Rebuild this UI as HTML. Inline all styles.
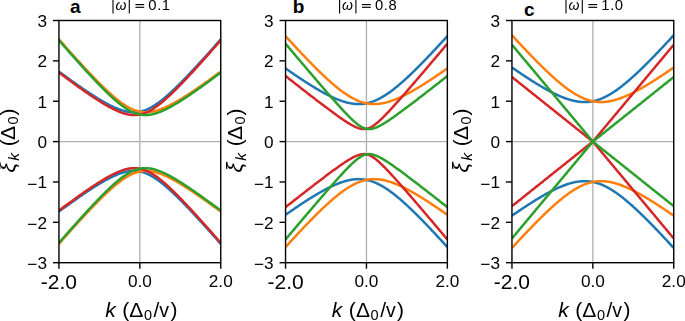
<!DOCTYPE html>
<html><head><meta charset="utf-8"><style>
html,body{margin:0;padding:0;background:#fff;}
body{width:685px;height:321px;overflow:hidden;}
svg{display:block;}
.ov{position:absolute;left:0;top:0;will-change:transform;}
text{font-family:"Liberation Sans",sans-serif;fill:#000;}
</style></head><body>
<svg width="685" height="321" viewBox="0 0 685 321">
<rect width="685" height="321" fill="#fff"/>

<defs><clipPath id="cp0"><rect x="58.95" y="20.5" width="161.80" height="242.20"/></clipPath></defs>
<g stroke="#b0b0b0" stroke-width="1.3" fill="none">
<line x1="139.85" y1="20.5" x2="139.85" y2="262.7"/>
<line x1="58.95" y1="141.60" x2="220.75" y2="141.60"/>
</g>
<g clip-path="url(#cp0)" fill="none" stroke-width="2.5" stroke-linejoin="round" stroke-linecap="butt">
<path stroke="#1f77b4" d="M58.95,71.64 L59.62,72.14 L60.30,72.63 L60.97,73.13 L61.65,73.62 L62.32,74.11 L63.00,74.61 L63.67,75.10 L64.34,75.59 L65.02,76.08 L65.69,76.57 L66.37,77.06 L67.04,77.55 L67.71,78.03 L68.39,78.52 L69.06,79.01 L69.74,79.49 L70.41,79.97 L71.09,80.46 L71.76,80.94 L72.43,81.42 L73.11,81.90 L73.78,82.38 L74.46,82.85 L75.13,83.33 L75.80,83.81 L76.48,84.28 L77.15,84.75 L77.83,85.22 L78.50,85.69 L79.18,86.16 L79.85,86.63 L80.52,87.10 L81.20,87.56 L81.87,88.03 L82.55,88.49 L83.22,88.95 L83.89,89.41 L84.57,89.87 L85.24,90.32 L85.92,90.78 L86.59,91.23 L87.27,91.68 L87.94,92.13 L88.61,92.58 L89.29,93.02 L89.96,93.46 L90.64,93.90 L91.31,94.34 L91.98,94.78 L92.66,95.21 L93.33,95.65 L94.01,96.08 L94.68,96.50 L95.36,96.93 L96.03,97.35 L96.70,97.77 L97.38,98.19 L98.05,98.60 L98.73,99.01 L99.40,99.42 L100.07,99.82 L100.75,100.22 L101.42,100.62 L102.10,101.01 L102.77,101.40 L103.45,101.79 L104.12,102.17 L104.79,102.55 L105.47,102.93 L106.14,103.30 L106.82,103.66 L107.49,104.02 L108.16,104.38 L108.84,104.73 L109.51,105.08 L110.19,105.42 L110.86,105.76 L111.54,106.09 L112.21,106.41 L112.88,106.73 L113.56,107.04 L114.23,107.35 L114.91,107.64 L115.58,107.94 L116.25,108.22 L116.93,108.50 L117.60,108.77 L118.28,109.03 L118.95,109.29 L119.62,109.53 L120.30,109.77 L120.97,110.00 L121.65,110.22 L122.32,110.43 L123.00,110.63 L123.67,110.82 L124.34,111.00 L125.02,111.16 L125.69,111.32 L126.37,111.47 L127.04,111.60 L127.72,111.73 L128.39,111.84 L129.06,111.94 L129.74,112.03 L130.41,112.10 L131.09,112.16 L131.76,112.21 L132.43,112.24 L133.11,112.26 L133.78,112.27 L134.46,112.26 L135.13,112.24 L135.81,112.20 L136.48,112.15 L137.15,112.08 L137.83,112.00 L138.50,111.90 L139.18,111.79 L139.85,111.66 L140.52,111.52 L141.20,111.36 L141.87,111.19 L142.55,111.00 L143.22,110.80 L143.90,110.59 L144.57,110.35 L145.24,110.11 L145.92,109.85 L146.59,109.57 L147.27,109.28 L147.94,108.98 L148.61,108.66 L149.29,108.33 L149.96,107.99 L150.64,107.63 L151.31,107.27 L151.99,106.88 L152.66,106.49 L153.33,106.09 L154.01,105.67 L154.68,105.24 L155.36,104.81 L156.03,104.36 L156.70,103.90 L157.38,103.43 L158.05,102.95 L158.73,102.46 L159.40,101.96 L160.07,101.46 L160.75,100.94 L161.42,100.42 L162.10,99.89 L162.77,99.35 L163.45,98.80 L164.12,98.25 L164.79,97.69 L165.47,97.12 L166.14,96.54 L166.82,95.96 L167.49,95.38 L168.17,94.78 L168.84,94.18 L169.51,93.58 L170.19,92.97 L170.86,92.35 L171.54,91.73 L172.21,91.11 L172.88,90.48 L173.56,89.84 L174.23,89.20 L174.91,88.56 L175.58,87.91 L176.25,87.26 L176.93,86.60 L177.60,85.94 L178.28,85.28 L178.95,84.61 L179.63,83.94 L180.30,83.27 L180.97,82.59 L181.65,81.91 L182.32,81.23 L183.00,80.55 L183.67,79.86 L184.35,79.17 L185.02,78.47 L185.69,77.78 L186.37,77.08 L187.04,76.38 L187.72,75.67 L188.39,74.97 L189.06,74.26 L189.74,73.55 L190.41,72.84 L191.09,72.12 L191.76,71.41 L192.44,70.69 L193.11,69.97 L193.78,69.25 L194.46,68.52 L195.13,67.80 L195.81,67.07 L196.48,66.34 L197.15,65.61 L197.83,64.88 L198.50,64.15 L199.18,63.42 L199.85,62.68 L200.53,61.94 L201.20,61.21 L201.87,60.47 L202.55,59.72 L203.22,58.98 L203.90,58.24 L204.57,57.50 L205.24,56.75 L205.92,56.00 L206.59,55.26 L207.27,54.51 L207.94,53.76 L208.62,53.01 L209.29,52.25 L209.96,51.50 L210.64,50.75 L211.31,49.99 L211.99,49.24 L212.66,48.48 L213.33,47.73 L214.01,46.97 L214.68,46.21 L215.36,45.45 L216.03,44.69 L216.70,43.93 L217.38,43.17 L218.05,42.40 L218.73,41.64 L219.40,40.88 L220.08,40.11 L220.75,39.35"/>
<path stroke="#1f77b4" d="M58.95,211.56 L59.62,211.06 L60.30,210.57 L60.97,210.07 L61.65,209.58 L62.32,209.09 L63.00,208.59 L63.67,208.10 L64.34,207.61 L65.02,207.12 L65.69,206.63 L66.37,206.14 L67.04,205.65 L67.71,205.17 L68.39,204.68 L69.06,204.19 L69.74,203.71 L70.41,203.23 L71.09,202.74 L71.76,202.26 L72.43,201.78 L73.11,201.30 L73.78,200.82 L74.46,200.35 L75.13,199.87 L75.80,199.39 L76.48,198.92 L77.15,198.45 L77.83,197.98 L78.50,197.51 L79.18,197.04 L79.85,196.57 L80.52,196.10 L81.20,195.64 L81.87,195.17 L82.55,194.71 L83.22,194.25 L83.89,193.79 L84.57,193.33 L85.24,192.88 L85.92,192.42 L86.59,191.97 L87.27,191.52 L87.94,191.07 L88.61,190.62 L89.29,190.18 L89.96,189.74 L90.64,189.30 L91.31,188.86 L91.98,188.42 L92.66,187.99 L93.33,187.55 L94.01,187.12 L94.68,186.70 L95.36,186.27 L96.03,185.85 L96.70,185.43 L97.38,185.01 L98.05,184.60 L98.73,184.19 L99.40,183.78 L100.07,183.38 L100.75,182.98 L101.42,182.58 L102.10,182.19 L102.77,181.80 L103.45,181.41 L104.12,181.03 L104.79,180.65 L105.47,180.27 L106.14,179.90 L106.82,179.54 L107.49,179.18 L108.16,178.82 L108.84,178.47 L109.51,178.12 L110.19,177.78 L110.86,177.44 L111.54,177.11 L112.21,176.79 L112.88,176.47 L113.56,176.16 L114.23,175.85 L114.91,175.56 L115.58,175.26 L116.25,174.98 L116.93,174.70 L117.60,174.43 L118.28,174.17 L118.95,173.91 L119.62,173.67 L120.30,173.43 L120.97,173.20 L121.65,172.98 L122.32,172.77 L123.00,172.57 L123.67,172.38 L124.34,172.20 L125.02,172.04 L125.69,171.88 L126.37,171.73 L127.04,171.60 L127.72,171.47 L128.39,171.36 L129.06,171.26 L129.74,171.17 L130.41,171.10 L131.09,171.04 L131.76,170.99 L132.43,170.96 L133.11,170.94 L133.78,170.93 L134.46,170.94 L135.13,170.96 L135.81,171.00 L136.48,171.05 L137.15,171.12 L137.83,171.20 L138.50,171.30 L139.18,171.41 L139.85,171.54 L140.52,171.68 L141.20,171.84 L141.87,172.01 L142.55,172.20 L143.22,172.40 L143.90,172.61 L144.57,172.85 L145.24,173.09 L145.92,173.35 L146.59,173.63 L147.27,173.92 L147.94,174.22 L148.61,174.54 L149.29,174.87 L149.96,175.21 L150.64,175.57 L151.31,175.93 L151.99,176.32 L152.66,176.71 L153.33,177.11 L154.01,177.53 L154.68,177.96 L155.36,178.39 L156.03,178.84 L156.70,179.30 L157.38,179.77 L158.05,180.25 L158.73,180.74 L159.40,181.24 L160.07,181.74 L160.75,182.26 L161.42,182.78 L162.10,183.31 L162.77,183.85 L163.45,184.40 L164.12,184.95 L164.79,185.51 L165.47,186.08 L166.14,186.66 L166.82,187.24 L167.49,187.82 L168.17,188.42 L168.84,189.02 L169.51,189.62 L170.19,190.23 L170.86,190.85 L171.54,191.47 L172.21,192.09 L172.88,192.72 L173.56,193.36 L174.23,194.00 L174.91,194.64 L175.58,195.29 L176.25,195.94 L176.93,196.60 L177.60,197.26 L178.28,197.92 L178.95,198.59 L179.63,199.26 L180.30,199.93 L180.97,200.61 L181.65,201.29 L182.32,201.97 L183.00,202.65 L183.67,203.34 L184.35,204.03 L185.02,204.73 L185.69,205.42 L186.37,206.12 L187.04,206.82 L187.72,207.53 L188.39,208.23 L189.06,208.94 L189.74,209.65 L190.41,210.36 L191.09,211.08 L191.76,211.79 L192.44,212.51 L193.11,213.23 L193.78,213.95 L194.46,214.68 L195.13,215.40 L195.81,216.13 L196.48,216.86 L197.15,217.59 L197.83,218.32 L198.50,219.05 L199.18,219.78 L199.85,220.52 L200.53,221.26 L201.20,221.99 L201.87,222.73 L202.55,223.48 L203.22,224.22 L203.90,224.96 L204.57,225.70 L205.24,226.45 L205.92,227.20 L206.59,227.94 L207.27,228.69 L207.94,229.44 L208.62,230.19 L209.29,230.95 L209.96,231.70 L210.64,232.45 L211.31,233.21 L211.99,233.96 L212.66,234.72 L213.33,235.47 L214.01,236.23 L214.68,236.99 L215.36,237.75 L216.03,238.51 L216.70,239.27 L217.38,240.03 L218.05,240.80 L218.73,241.56 L219.40,242.32 L220.08,243.09 L220.75,243.85"/>
<path stroke="#ff7f0e" d="M58.95,39.35 L59.62,40.11 L60.30,40.88 L60.97,41.64 L61.65,42.40 L62.32,43.17 L63.00,43.93 L63.67,44.69 L64.34,45.45 L65.02,46.21 L65.69,46.97 L66.37,47.73 L67.04,48.48 L67.71,49.24 L68.39,49.99 L69.06,50.75 L69.74,51.50 L70.41,52.25 L71.09,53.01 L71.76,53.76 L72.43,54.51 L73.11,55.26 L73.78,56.00 L74.46,56.75 L75.13,57.50 L75.80,58.24 L76.48,58.98 L77.15,59.72 L77.83,60.47 L78.50,61.21 L79.18,61.94 L79.85,62.68 L80.52,63.42 L81.20,64.15 L81.87,64.88 L82.55,65.61 L83.22,66.34 L83.89,67.07 L84.57,67.80 L85.24,68.52 L85.92,69.25 L86.59,69.97 L87.27,70.69 L87.94,71.41 L88.61,72.12 L89.29,72.84 L89.96,73.55 L90.64,74.26 L91.31,74.97 L91.98,75.67 L92.66,76.38 L93.33,77.08 L94.01,77.78 L94.68,78.47 L95.36,79.17 L96.03,79.86 L96.70,80.55 L97.38,81.23 L98.05,81.91 L98.73,82.59 L99.40,83.27 L100.07,83.94 L100.75,84.61 L101.42,85.28 L102.10,85.94 L102.77,86.60 L103.45,87.26 L104.12,87.91 L104.79,88.56 L105.47,89.20 L106.14,89.84 L106.82,90.48 L107.49,91.11 L108.16,91.73 L108.84,92.35 L109.51,92.97 L110.19,93.58 L110.86,94.18 L111.54,94.78 L112.21,95.38 L112.88,95.96 L113.56,96.54 L114.23,97.12 L114.91,97.69 L115.58,98.25 L116.25,98.80 L116.93,99.35 L117.60,99.89 L118.28,100.42 L118.95,100.94 L119.62,101.46 L120.30,101.96 L120.97,102.46 L121.65,102.95 L122.32,103.43 L123.00,103.90 L123.67,104.36 L124.34,104.81 L125.02,105.24 L125.69,105.67 L126.37,106.09 L127.04,106.49 L127.72,106.88 L128.39,107.27 L129.06,107.63 L129.74,107.99 L130.41,108.33 L131.09,108.66 L131.76,108.98 L132.43,109.28 L133.11,109.57 L133.78,109.85 L134.46,110.11 L135.13,110.35 L135.81,110.59 L136.48,110.80 L137.15,111.00 L137.83,111.19 L138.50,111.36 L139.18,111.52 L139.85,111.66 L140.52,111.79 L141.20,111.90 L141.87,112.00 L142.55,112.08 L143.22,112.15 L143.90,112.20 L144.57,112.24 L145.24,112.26 L145.92,112.27 L146.59,112.26 L147.27,112.24 L147.94,112.21 L148.61,112.16 L149.29,112.10 L149.96,112.03 L150.64,111.94 L151.31,111.84 L151.99,111.73 L152.66,111.60 L153.33,111.47 L154.01,111.32 L154.68,111.16 L155.36,111.00 L156.03,110.82 L156.70,110.63 L157.38,110.43 L158.05,110.22 L158.73,110.00 L159.40,109.77 L160.07,109.53 L160.75,109.29 L161.42,109.03 L162.10,108.77 L162.77,108.50 L163.45,108.22 L164.12,107.94 L164.79,107.64 L165.47,107.35 L166.14,107.04 L166.82,106.73 L167.49,106.41 L168.17,106.09 L168.84,105.76 L169.51,105.42 L170.19,105.08 L170.86,104.73 L171.54,104.38 L172.21,104.02 L172.88,103.66 L173.56,103.30 L174.23,102.93 L174.91,102.55 L175.58,102.17 L176.25,101.79 L176.93,101.40 L177.60,101.01 L178.28,100.62 L178.95,100.22 L179.63,99.82 L180.30,99.42 L180.97,99.01 L181.65,98.60 L182.32,98.19 L183.00,97.77 L183.67,97.35 L184.35,96.93 L185.02,96.50 L185.69,96.08 L186.37,95.65 L187.04,95.21 L187.72,94.78 L188.39,94.34 L189.06,93.90 L189.74,93.46 L190.41,93.02 L191.09,92.58 L191.76,92.13 L192.44,91.68 L193.11,91.23 L193.78,90.78 L194.46,90.32 L195.13,89.87 L195.81,89.41 L196.48,88.95 L197.15,88.49 L197.83,88.03 L198.50,87.56 L199.18,87.10 L199.85,86.63 L200.53,86.16 L201.20,85.69 L201.87,85.22 L202.55,84.75 L203.22,84.28 L203.90,83.81 L204.57,83.33 L205.24,82.85 L205.92,82.38 L206.59,81.90 L207.27,81.42 L207.94,80.94 L208.62,80.46 L209.29,79.97 L209.96,79.49 L210.64,79.01 L211.31,78.52 L211.99,78.03 L212.66,77.55 L213.33,77.06 L214.01,76.57 L214.68,76.08 L215.36,75.59 L216.03,75.10 L216.70,74.61 L217.38,74.11 L218.05,73.62 L218.73,73.13 L219.40,72.63 L220.08,72.14 L220.75,71.64"/>
<path stroke="#ff7f0e" d="M58.95,243.85 L59.62,243.09 L60.30,242.32 L60.97,241.56 L61.65,240.80 L62.32,240.03 L63.00,239.27 L63.67,238.51 L64.34,237.75 L65.02,236.99 L65.69,236.23 L66.37,235.47 L67.04,234.72 L67.71,233.96 L68.39,233.21 L69.06,232.45 L69.74,231.70 L70.41,230.95 L71.09,230.19 L71.76,229.44 L72.43,228.69 L73.11,227.94 L73.78,227.20 L74.46,226.45 L75.13,225.70 L75.80,224.96 L76.48,224.22 L77.15,223.48 L77.83,222.73 L78.50,221.99 L79.18,221.26 L79.85,220.52 L80.52,219.78 L81.20,219.05 L81.87,218.32 L82.55,217.59 L83.22,216.86 L83.89,216.13 L84.57,215.40 L85.24,214.68 L85.92,213.95 L86.59,213.23 L87.27,212.51 L87.94,211.79 L88.61,211.08 L89.29,210.36 L89.96,209.65 L90.64,208.94 L91.31,208.23 L91.98,207.53 L92.66,206.82 L93.33,206.12 L94.01,205.42 L94.68,204.73 L95.36,204.03 L96.03,203.34 L96.70,202.65 L97.38,201.97 L98.05,201.29 L98.73,200.61 L99.40,199.93 L100.07,199.26 L100.75,198.59 L101.42,197.92 L102.10,197.26 L102.77,196.60 L103.45,195.94 L104.12,195.29 L104.79,194.64 L105.47,194.00 L106.14,193.36 L106.82,192.72 L107.49,192.09 L108.16,191.47 L108.84,190.85 L109.51,190.23 L110.19,189.62 L110.86,189.02 L111.54,188.42 L112.21,187.82 L112.88,187.24 L113.56,186.66 L114.23,186.08 L114.91,185.51 L115.58,184.95 L116.25,184.40 L116.93,183.85 L117.60,183.31 L118.28,182.78 L118.95,182.26 L119.62,181.74 L120.30,181.24 L120.97,180.74 L121.65,180.25 L122.32,179.77 L123.00,179.30 L123.67,178.84 L124.34,178.39 L125.02,177.96 L125.69,177.53 L126.37,177.11 L127.04,176.71 L127.72,176.32 L128.39,175.93 L129.06,175.57 L129.74,175.21 L130.41,174.87 L131.09,174.54 L131.76,174.22 L132.43,173.92 L133.11,173.63 L133.78,173.35 L134.46,173.09 L135.13,172.85 L135.81,172.61 L136.48,172.40 L137.15,172.20 L137.83,172.01 L138.50,171.84 L139.18,171.68 L139.85,171.54 L140.52,171.41 L141.20,171.30 L141.87,171.20 L142.55,171.12 L143.22,171.05 L143.90,171.00 L144.57,170.96 L145.24,170.94 L145.92,170.93 L146.59,170.94 L147.27,170.96 L147.94,170.99 L148.61,171.04 L149.29,171.10 L149.96,171.17 L150.64,171.26 L151.31,171.36 L151.99,171.47 L152.66,171.60 L153.33,171.73 L154.01,171.88 L154.68,172.04 L155.36,172.20 L156.03,172.38 L156.70,172.57 L157.38,172.77 L158.05,172.98 L158.73,173.20 L159.40,173.43 L160.07,173.67 L160.75,173.91 L161.42,174.17 L162.10,174.43 L162.77,174.70 L163.45,174.98 L164.12,175.26 L164.79,175.56 L165.47,175.85 L166.14,176.16 L166.82,176.47 L167.49,176.79 L168.17,177.11 L168.84,177.44 L169.51,177.78 L170.19,178.12 L170.86,178.47 L171.54,178.82 L172.21,179.18 L172.88,179.54 L173.56,179.90 L174.23,180.27 L174.91,180.65 L175.58,181.03 L176.25,181.41 L176.93,181.80 L177.60,182.19 L178.28,182.58 L178.95,182.98 L179.63,183.38 L180.30,183.78 L180.97,184.19 L181.65,184.60 L182.32,185.01 L183.00,185.43 L183.67,185.85 L184.35,186.27 L185.02,186.70 L185.69,187.12 L186.37,187.55 L187.04,187.99 L187.72,188.42 L188.39,188.86 L189.06,189.30 L189.74,189.74 L190.41,190.18 L191.09,190.62 L191.76,191.07 L192.44,191.52 L193.11,191.97 L193.78,192.42 L194.46,192.88 L195.13,193.33 L195.81,193.79 L196.48,194.25 L197.15,194.71 L197.83,195.17 L198.50,195.64 L199.18,196.10 L199.85,196.57 L200.53,197.04 L201.20,197.51 L201.87,197.98 L202.55,198.45 L203.22,198.92 L203.90,199.39 L204.57,199.87 L205.24,200.35 L205.92,200.82 L206.59,201.30 L207.27,201.78 L207.94,202.26 L208.62,202.74 L209.29,203.23 L209.96,203.71 L210.64,204.19 L211.31,204.68 L211.99,205.17 L212.66,205.65 L213.33,206.14 L214.01,206.63 L214.68,207.12 L215.36,207.61 L216.03,208.10 L216.70,208.59 L217.38,209.09 L218.05,209.58 L218.73,210.07 L219.40,210.57 L220.08,211.06 L220.75,211.56"/>
<path stroke="#d62728" d="M58.95,72.59 L59.62,73.10 L60.30,73.60 L60.97,74.10 L61.65,74.60 L62.32,75.10 L63.00,75.60 L63.67,76.10 L64.34,76.60 L65.02,77.10 L65.69,77.60 L66.37,78.09 L67.04,78.59 L67.71,79.09 L68.39,79.58 L69.06,80.07 L69.74,80.57 L70.41,81.06 L71.09,81.55 L71.76,82.04 L72.43,82.53 L73.11,83.02 L73.78,83.51 L74.46,84.00 L75.13,84.48 L75.80,84.97 L76.48,85.45 L77.15,85.94 L77.83,86.42 L78.50,86.90 L79.18,87.38 L79.85,87.86 L80.52,88.34 L81.20,88.81 L81.87,89.29 L82.55,89.76 L83.22,90.24 L83.89,90.71 L84.57,91.18 L85.24,91.65 L85.92,92.11 L86.59,92.58 L87.27,93.04 L87.94,93.51 L88.61,93.97 L89.29,94.43 L89.96,94.88 L90.64,95.34 L91.31,95.79 L91.98,96.24 L92.66,96.69 L93.33,97.14 L94.01,97.59 L94.68,98.03 L95.36,98.47 L96.03,98.91 L96.70,99.35 L97.38,99.78 L98.05,100.21 L98.73,100.64 L99.40,101.07 L100.07,101.49 L100.75,101.91 L101.42,102.32 L102.10,102.74 L102.77,103.15 L103.45,103.55 L104.12,103.96 L104.79,104.36 L105.47,104.75 L106.14,105.14 L106.82,105.53 L107.49,105.91 L108.16,106.29 L108.84,106.67 L109.51,107.04 L110.19,107.40 L110.86,107.76 L111.54,108.11 L112.21,108.46 L112.88,108.81 L113.56,109.14 L114.23,109.47 L114.91,109.80 L115.58,110.11 L116.25,110.42 L116.93,110.73 L117.60,111.02 L118.28,111.31 L118.95,111.59 L119.62,111.86 L120.30,112.13 L120.97,112.38 L121.65,112.63 L122.32,112.86 L123.00,113.09 L123.67,113.30 L124.34,113.51 L125.02,113.70 L125.69,113.88 L126.37,114.05 L127.04,114.21 L127.72,114.36 L128.39,114.49 L129.06,114.61 L129.74,114.72 L130.41,114.81 L131.09,114.89 L131.76,114.96 L132.43,115.01 L133.11,115.04 L133.78,115.06 L134.46,115.07 L135.13,115.06 L135.81,115.03 L136.48,114.99 L137.15,114.93 L137.83,114.85 L138.50,114.76 L139.18,114.65 L139.85,114.52 L140.52,114.38 L141.20,114.22 L141.87,114.04 L142.55,113.85 L143.22,113.64 L143.90,113.41 L144.57,113.17 L145.24,112.92 L145.92,112.64 L146.59,112.35 L147.27,112.05 L147.94,111.73 L148.61,111.39 L149.29,111.05 L149.96,110.68 L150.64,110.31 L151.31,109.92 L151.99,109.51 L152.66,109.10 L153.33,108.67 L154.01,108.23 L154.68,107.78 L155.36,107.32 L156.03,106.84 L156.70,106.36 L157.38,105.86 L158.05,105.36 L158.73,104.85 L159.40,104.32 L160.07,103.79 L160.75,103.25 L161.42,102.70 L162.10,102.14 L162.77,101.58 L163.45,101.01 L164.12,100.43 L164.79,99.84 L165.47,99.25 L166.14,98.65 L166.82,98.04 L167.49,97.43 L168.17,96.81 L168.84,96.19 L169.51,95.56 L170.19,94.93 L170.86,94.29 L171.54,93.65 L172.21,93.00 L172.88,92.35 L173.56,91.69 L174.23,91.03 L174.91,90.36 L175.58,89.69 L176.25,89.02 L176.93,88.35 L177.60,87.67 L178.28,86.99 L178.95,86.30 L179.63,85.61 L180.30,84.92 L180.97,84.22 L181.65,83.53 L182.32,82.83 L183.00,82.12 L183.67,81.42 L184.35,80.71 L185.02,80.00 L185.69,79.29 L186.37,78.57 L187.04,77.86 L187.72,77.14 L188.39,76.42 L189.06,75.69 L189.74,74.97 L190.41,74.24 L191.09,73.51 L191.76,72.78 L192.44,72.05 L193.11,71.32 L193.78,70.59 L194.46,69.85 L195.13,69.11 L195.81,68.37 L196.48,67.63 L197.15,66.89 L197.83,66.15 L198.50,65.40 L199.18,64.66 L199.85,63.91 L200.53,63.16 L201.20,62.41 L201.87,61.66 L202.55,60.91 L203.22,60.16 L203.90,59.40 L204.57,58.65 L205.24,57.89 L205.92,57.14 L206.59,56.38 L207.27,55.62 L207.94,54.86 L208.62,54.10 L209.29,53.34 L209.96,52.58 L210.64,51.82 L211.31,51.05 L211.99,50.29 L212.66,49.53 L213.33,48.76 L214.01,47.99 L214.68,47.23 L215.36,46.46 L216.03,45.69 L216.70,44.92 L217.38,44.15 L218.05,43.38 L218.73,42.61 L219.40,41.84 L220.08,41.07 L220.75,40.30"/>
<path stroke="#d62728" d="M58.95,210.61 L59.62,210.10 L60.30,209.60 L60.97,209.10 L61.65,208.60 L62.32,208.10 L63.00,207.60 L63.67,207.10 L64.34,206.60 L65.02,206.10 L65.69,205.60 L66.37,205.11 L67.04,204.61 L67.71,204.11 L68.39,203.62 L69.06,203.13 L69.74,202.63 L70.41,202.14 L71.09,201.65 L71.76,201.16 L72.43,200.67 L73.11,200.18 L73.78,199.69 L74.46,199.20 L75.13,198.72 L75.80,198.23 L76.48,197.75 L77.15,197.26 L77.83,196.78 L78.50,196.30 L79.18,195.82 L79.85,195.34 L80.52,194.86 L81.20,194.39 L81.87,193.91 L82.55,193.44 L83.22,192.96 L83.89,192.49 L84.57,192.02 L85.24,191.55 L85.92,191.09 L86.59,190.62 L87.27,190.16 L87.94,189.69 L88.61,189.23 L89.29,188.77 L89.96,188.32 L90.64,187.86 L91.31,187.41 L91.98,186.96 L92.66,186.51 L93.33,186.06 L94.01,185.61 L94.68,185.17 L95.36,184.73 L96.03,184.29 L96.70,183.85 L97.38,183.42 L98.05,182.99 L98.73,182.56 L99.40,182.13 L100.07,181.71 L100.75,181.29 L101.42,180.88 L102.10,180.46 L102.77,180.05 L103.45,179.65 L104.12,179.24 L104.79,178.84 L105.47,178.45 L106.14,178.06 L106.82,177.67 L107.49,177.29 L108.16,176.91 L108.84,176.53 L109.51,176.16 L110.19,175.80 L110.86,175.44 L111.54,175.09 L112.21,174.74 L112.88,174.39 L113.56,174.06 L114.23,173.73 L114.91,173.40 L115.58,173.09 L116.25,172.78 L116.93,172.47 L117.60,172.18 L118.28,171.89 L118.95,171.61 L119.62,171.34 L120.30,171.07 L120.97,170.82 L121.65,170.57 L122.32,170.34 L123.00,170.11 L123.67,169.90 L124.34,169.69 L125.02,169.50 L125.69,169.32 L126.37,169.15 L127.04,168.99 L127.72,168.84 L128.39,168.71 L129.06,168.59 L129.74,168.48 L130.41,168.39 L131.09,168.31 L131.76,168.24 L132.43,168.19 L133.11,168.16 L133.78,168.14 L134.46,168.13 L135.13,168.14 L135.81,168.17 L136.48,168.21 L137.15,168.27 L137.83,168.35 L138.50,168.44 L139.18,168.55 L139.85,168.68 L140.52,168.82 L141.20,168.98 L141.87,169.16 L142.55,169.35 L143.22,169.56 L143.90,169.79 L144.57,170.03 L145.24,170.28 L145.92,170.56 L146.59,170.85 L147.27,171.15 L147.94,171.47 L148.61,171.81 L149.29,172.15 L149.96,172.52 L150.64,172.89 L151.31,173.28 L151.99,173.69 L152.66,174.10 L153.33,174.53 L154.01,174.97 L154.68,175.42 L155.36,175.88 L156.03,176.36 L156.70,176.84 L157.38,177.34 L158.05,177.84 L158.73,178.35 L159.40,178.88 L160.07,179.41 L160.75,179.95 L161.42,180.50 L162.10,181.06 L162.77,181.62 L163.45,182.19 L164.12,182.77 L164.79,183.36 L165.47,183.95 L166.14,184.55 L166.82,185.16 L167.49,185.77 L168.17,186.39 L168.84,187.01 L169.51,187.64 L170.19,188.27 L170.86,188.91 L171.54,189.55 L172.21,190.20 L172.88,190.85 L173.56,191.51 L174.23,192.17 L174.91,192.84 L175.58,193.51 L176.25,194.18 L176.93,194.85 L177.60,195.53 L178.28,196.21 L178.95,196.90 L179.63,197.59 L180.30,198.28 L180.97,198.98 L181.65,199.67 L182.32,200.37 L183.00,201.08 L183.67,201.78 L184.35,202.49 L185.02,203.20 L185.69,203.91 L186.37,204.63 L187.04,205.34 L187.72,206.06 L188.39,206.78 L189.06,207.51 L189.74,208.23 L190.41,208.96 L191.09,209.69 L191.76,210.42 L192.44,211.15 L193.11,211.88 L193.78,212.61 L194.46,213.35 L195.13,214.09 L195.81,214.83 L196.48,215.57 L197.15,216.31 L197.83,217.05 L198.50,217.80 L199.18,218.54 L199.85,219.29 L200.53,220.04 L201.20,220.79 L201.87,221.54 L202.55,222.29 L203.22,223.04 L203.90,223.80 L204.57,224.55 L205.24,225.31 L205.92,226.06 L206.59,226.82 L207.27,227.58 L207.94,228.34 L208.62,229.10 L209.29,229.86 L209.96,230.62 L210.64,231.38 L211.31,232.15 L211.99,232.91 L212.66,233.67 L213.33,234.44 L214.01,235.21 L214.68,235.97 L215.36,236.74 L216.03,237.51 L216.70,238.28 L217.38,239.05 L218.05,239.82 L218.73,240.59 L219.40,241.36 L220.08,242.13 L220.75,242.90"/>
<path stroke="#2ca02c" d="M58.95,40.30 L59.62,41.07 L60.30,41.84 L60.97,42.61 L61.65,43.38 L62.32,44.15 L63.00,44.92 L63.67,45.69 L64.34,46.46 L65.02,47.23 L65.69,47.99 L66.37,48.76 L67.04,49.53 L67.71,50.29 L68.39,51.05 L69.06,51.82 L69.74,52.58 L70.41,53.34 L71.09,54.10 L71.76,54.86 L72.43,55.62 L73.11,56.38 L73.78,57.14 L74.46,57.89 L75.13,58.65 L75.80,59.40 L76.48,60.16 L77.15,60.91 L77.83,61.66 L78.50,62.41 L79.18,63.16 L79.85,63.91 L80.52,64.66 L81.20,65.40 L81.87,66.15 L82.55,66.89 L83.22,67.63 L83.89,68.37 L84.57,69.11 L85.24,69.85 L85.92,70.59 L86.59,71.32 L87.27,72.05 L87.94,72.78 L88.61,73.51 L89.29,74.24 L89.96,74.97 L90.64,75.69 L91.31,76.42 L91.98,77.14 L92.66,77.86 L93.33,78.57 L94.01,79.29 L94.68,80.00 L95.36,80.71 L96.03,81.42 L96.70,82.12 L97.38,82.83 L98.05,83.53 L98.73,84.22 L99.40,84.92 L100.07,85.61 L100.75,86.30 L101.42,86.99 L102.10,87.67 L102.77,88.35 L103.45,89.02 L104.12,89.69 L104.79,90.36 L105.47,91.03 L106.14,91.69 L106.82,92.35 L107.49,93.00 L108.16,93.65 L108.84,94.29 L109.51,94.93 L110.19,95.56 L110.86,96.19 L111.54,96.81 L112.21,97.43 L112.88,98.04 L113.56,98.65 L114.23,99.25 L114.91,99.84 L115.58,100.43 L116.25,101.01 L116.93,101.58 L117.60,102.14 L118.28,102.70 L118.95,103.25 L119.62,103.79 L120.30,104.32 L120.97,104.85 L121.65,105.36 L122.32,105.86 L123.00,106.36 L123.67,106.84 L124.34,107.32 L125.02,107.78 L125.69,108.23 L126.37,108.67 L127.04,109.10 L127.72,109.51 L128.39,109.92 L129.06,110.31 L129.74,110.68 L130.41,111.05 L131.09,111.39 L131.76,111.73 L132.43,112.05 L133.11,112.35 L133.78,112.64 L134.46,112.92 L135.13,113.17 L135.81,113.41 L136.48,113.64 L137.15,113.85 L137.83,114.04 L138.50,114.22 L139.18,114.38 L139.85,114.52 L140.52,114.65 L141.20,114.76 L141.87,114.85 L142.55,114.93 L143.22,114.99 L143.90,115.03 L144.57,115.06 L145.24,115.07 L145.92,115.06 L146.59,115.04 L147.27,115.01 L147.94,114.96 L148.61,114.89 L149.29,114.81 L149.96,114.72 L150.64,114.61 L151.31,114.49 L151.99,114.36 L152.66,114.21 L153.33,114.05 L154.01,113.88 L154.68,113.70 L155.36,113.51 L156.03,113.30 L156.70,113.09 L157.38,112.86 L158.05,112.63 L158.73,112.38 L159.40,112.13 L160.07,111.86 L160.75,111.59 L161.42,111.31 L162.10,111.02 L162.77,110.73 L163.45,110.42 L164.12,110.11 L164.79,109.80 L165.47,109.47 L166.14,109.14 L166.82,108.81 L167.49,108.46 L168.17,108.11 L168.84,107.76 L169.51,107.40 L170.19,107.04 L170.86,106.67 L171.54,106.29 L172.21,105.91 L172.88,105.53 L173.56,105.14 L174.23,104.75 L174.91,104.36 L175.58,103.96 L176.25,103.55 L176.93,103.15 L177.60,102.74 L178.28,102.32 L178.95,101.91 L179.63,101.49 L180.30,101.07 L180.97,100.64 L181.65,100.21 L182.32,99.78 L183.00,99.35 L183.67,98.91 L184.35,98.47 L185.02,98.03 L185.69,97.59 L186.37,97.14 L187.04,96.69 L187.72,96.24 L188.39,95.79 L189.06,95.34 L189.74,94.88 L190.41,94.43 L191.09,93.97 L191.76,93.51 L192.44,93.04 L193.11,92.58 L193.78,92.11 L194.46,91.65 L195.13,91.18 L195.81,90.71 L196.48,90.24 L197.15,89.76 L197.83,89.29 L198.50,88.81 L199.18,88.34 L199.85,87.86 L200.53,87.38 L201.20,86.90 L201.87,86.42 L202.55,85.94 L203.22,85.45 L203.90,84.97 L204.57,84.48 L205.24,84.00 L205.92,83.51 L206.59,83.02 L207.27,82.53 L207.94,82.04 L208.62,81.55 L209.29,81.06 L209.96,80.57 L210.64,80.07 L211.31,79.58 L211.99,79.09 L212.66,78.59 L213.33,78.09 L214.01,77.60 L214.68,77.10 L215.36,76.60 L216.03,76.10 L216.70,75.60 L217.38,75.10 L218.05,74.60 L218.73,74.10 L219.40,73.60 L220.08,73.10 L220.75,72.59"/>
<path stroke="#2ca02c" d="M58.95,242.90 L59.62,242.13 L60.30,241.36 L60.97,240.59 L61.65,239.82 L62.32,239.05 L63.00,238.28 L63.67,237.51 L64.34,236.74 L65.02,235.97 L65.69,235.21 L66.37,234.44 L67.04,233.67 L67.71,232.91 L68.39,232.15 L69.06,231.38 L69.74,230.62 L70.41,229.86 L71.09,229.10 L71.76,228.34 L72.43,227.58 L73.11,226.82 L73.78,226.06 L74.46,225.31 L75.13,224.55 L75.80,223.80 L76.48,223.04 L77.15,222.29 L77.83,221.54 L78.50,220.79 L79.18,220.04 L79.85,219.29 L80.52,218.54 L81.20,217.80 L81.87,217.05 L82.55,216.31 L83.22,215.57 L83.89,214.83 L84.57,214.09 L85.24,213.35 L85.92,212.61 L86.59,211.88 L87.27,211.15 L87.94,210.42 L88.61,209.69 L89.29,208.96 L89.96,208.23 L90.64,207.51 L91.31,206.78 L91.98,206.06 L92.66,205.34 L93.33,204.63 L94.01,203.91 L94.68,203.20 L95.36,202.49 L96.03,201.78 L96.70,201.08 L97.38,200.37 L98.05,199.67 L98.73,198.98 L99.40,198.28 L100.07,197.59 L100.75,196.90 L101.42,196.21 L102.10,195.53 L102.77,194.85 L103.45,194.18 L104.12,193.51 L104.79,192.84 L105.47,192.17 L106.14,191.51 L106.82,190.85 L107.49,190.20 L108.16,189.55 L108.84,188.91 L109.51,188.27 L110.19,187.64 L110.86,187.01 L111.54,186.39 L112.21,185.77 L112.88,185.16 L113.56,184.55 L114.23,183.95 L114.91,183.36 L115.58,182.77 L116.25,182.19 L116.93,181.62 L117.60,181.06 L118.28,180.50 L118.95,179.95 L119.62,179.41 L120.30,178.88 L120.97,178.35 L121.65,177.84 L122.32,177.34 L123.00,176.84 L123.67,176.36 L124.34,175.88 L125.02,175.42 L125.69,174.97 L126.37,174.53 L127.04,174.10 L127.72,173.69 L128.39,173.28 L129.06,172.89 L129.74,172.52 L130.41,172.15 L131.09,171.81 L131.76,171.47 L132.43,171.15 L133.11,170.85 L133.78,170.56 L134.46,170.28 L135.13,170.03 L135.81,169.79 L136.48,169.56 L137.15,169.35 L137.83,169.16 L138.50,168.98 L139.18,168.82 L139.85,168.68 L140.52,168.55 L141.20,168.44 L141.87,168.35 L142.55,168.27 L143.22,168.21 L143.90,168.17 L144.57,168.14 L145.24,168.13 L145.92,168.14 L146.59,168.16 L147.27,168.19 L147.94,168.24 L148.61,168.31 L149.29,168.39 L149.96,168.48 L150.64,168.59 L151.31,168.71 L151.99,168.84 L152.66,168.99 L153.33,169.15 L154.01,169.32 L154.68,169.50 L155.36,169.69 L156.03,169.90 L156.70,170.11 L157.38,170.34 L158.05,170.57 L158.73,170.82 L159.40,171.07 L160.07,171.34 L160.75,171.61 L161.42,171.89 L162.10,172.18 L162.77,172.47 L163.45,172.78 L164.12,173.09 L164.79,173.40 L165.47,173.73 L166.14,174.06 L166.82,174.39 L167.49,174.74 L168.17,175.09 L168.84,175.44 L169.51,175.80 L170.19,176.16 L170.86,176.53 L171.54,176.91 L172.21,177.29 L172.88,177.67 L173.56,178.06 L174.23,178.45 L174.91,178.84 L175.58,179.24 L176.25,179.65 L176.93,180.05 L177.60,180.46 L178.28,180.88 L178.95,181.29 L179.63,181.71 L180.30,182.13 L180.97,182.56 L181.65,182.99 L182.32,183.42 L183.00,183.85 L183.67,184.29 L184.35,184.73 L185.02,185.17 L185.69,185.61 L186.37,186.06 L187.04,186.51 L187.72,186.96 L188.39,187.41 L189.06,187.86 L189.74,188.32 L190.41,188.77 L191.09,189.23 L191.76,189.69 L192.44,190.16 L193.11,190.62 L193.78,191.09 L194.46,191.55 L195.13,192.02 L195.81,192.49 L196.48,192.96 L197.15,193.44 L197.83,193.91 L198.50,194.39 L199.18,194.86 L199.85,195.34 L200.53,195.82 L201.20,196.30 L201.87,196.78 L202.55,197.26 L203.22,197.75 L203.90,198.23 L204.57,198.72 L205.24,199.20 L205.92,199.69 L206.59,200.18 L207.27,200.67 L207.94,201.16 L208.62,201.65 L209.29,202.14 L209.96,202.63 L210.64,203.13 L211.31,203.62 L211.99,204.11 L212.66,204.61 L213.33,205.11 L214.01,205.60 L214.68,206.10 L215.36,206.60 L216.03,207.10 L216.70,207.60 L217.38,208.10 L218.05,208.60 L218.73,209.10 L219.40,209.60 L220.08,210.10 L220.75,210.61"/>
</g>
<rect x="58.95" y="20.5" width="161.80" height="242.20" fill="none" stroke="#000" stroke-width="1.4"/>
<g stroke="#000" stroke-width="1.4">
<line x1="52.95" y1="262.70" x2="58.95" y2="262.70"/>
<line x1="52.95" y1="222.33" x2="58.95" y2="222.33"/>
<line x1="52.95" y1="181.97" x2="58.95" y2="181.97"/>
<line x1="52.95" y1="141.60" x2="58.95" y2="141.60"/>
<line x1="52.95" y1="101.23" x2="58.95" y2="101.23"/>
<line x1="52.95" y1="60.87" x2="58.95" y2="60.87"/>
<line x1="52.95" y1="20.50" x2="58.95" y2="20.50"/>
<line x1="58.95" y1="262.7" x2="58.95" y2="268.7"/>
<line x1="139.85" y1="262.7" x2="139.85" y2="268.7"/>
<line x1="220.75" y1="262.7" x2="220.75" y2="268.7"/>
</g>
<line x1="113.00" y1="0" x2="113.00" y2="13.6" stroke="#000" stroke-width="1.1"/>
<line x1="129.30" y1="0" x2="129.30" y2="13.6" stroke="#000" stroke-width="1.1"/>
<g stroke="#000" stroke-width="1.15"><line x1="135.40" y1="4.6" x2="144.20" y2="4.6"/><line x1="135.40" y1="7.3" x2="144.20" y2="7.3"/></g>
<defs><clipPath id="cp1"><rect x="285.55" y="20.5" width="161.80" height="242.20"/></clipPath></defs>
<g stroke="#b0b0b0" stroke-width="1.3" fill="none">
<line x1="366.45" y1="20.5" x2="366.45" y2="262.7"/>
<line x1="285.55" y1="141.60" x2="447.35" y2="141.60"/>
</g>
<g clip-path="url(#cp1)" fill="none" stroke-width="2.5" stroke-linejoin="round" stroke-linecap="butt">
<path stroke="#1f77b4" d="M285.55,68.39 L286.22,68.86 L286.90,69.34 L287.57,69.81 L288.25,70.28 L288.92,70.75 L289.60,71.21 L290.27,71.68 L290.94,72.15 L291.62,72.61 L292.29,73.07 L292.97,73.54 L293.64,74.00 L294.31,74.46 L294.99,74.92 L295.66,75.37 L296.34,75.83 L297.01,76.29 L297.69,76.74 L298.36,77.19 L299.03,77.64 L299.71,78.09 L300.38,78.54 L301.06,78.99 L301.73,79.43 L302.40,79.87 L303.08,80.32 L303.75,80.76 L304.43,81.19 L305.10,81.63 L305.78,82.07 L306.45,82.50 L307.12,82.93 L307.80,83.36 L308.47,83.79 L309.15,84.21 L309.82,84.64 L310.49,85.06 L311.17,85.48 L311.84,85.89 L312.52,86.31 L313.19,86.72 L313.87,87.13 L314.54,87.54 L315.21,87.94 L315.89,88.35 L316.56,88.75 L317.24,89.14 L317.91,89.54 L318.58,89.93 L319.26,90.32 L319.93,90.71 L320.61,91.09 L321.28,91.47 L321.96,91.84 L322.63,92.22 L323.30,92.59 L323.98,92.95 L324.65,93.32 L325.33,93.68 L326.00,94.03 L326.67,94.38 L327.35,94.73 L328.02,95.07 L328.70,95.41 L329.37,95.75 L330.05,96.08 L330.72,96.41 L331.39,96.73 L332.07,97.04 L332.74,97.36 L333.42,97.66 L334.09,97.96 L334.76,98.26 L335.44,98.55 L336.11,98.84 L336.79,99.12 L337.46,99.39 L338.13,99.66 L338.81,99.92 L339.48,100.18 L340.16,100.43 L340.83,100.67 L341.51,100.90 L342.18,101.13 L342.85,101.35 L343.53,101.57 L344.20,101.77 L344.88,101.97 L345.55,102.17 L346.23,102.35 L346.90,102.52 L347.57,102.69 L348.25,102.85 L348.92,103.00 L349.60,103.14 L350.27,103.27 L350.94,103.39 L351.62,103.50 L352.29,103.61 L352.97,103.70 L353.64,103.78 L354.31,103.86 L354.99,103.92 L355.66,103.97 L356.34,104.02 L357.01,104.05 L357.69,104.07 L358.36,104.08 L359.03,104.08 L359.71,104.06 L360.38,104.04 L361.06,104.00 L361.73,103.96 L362.41,103.90 L363.08,103.83 L363.75,103.75 L364.43,103.66 L365.10,103.55 L365.78,103.43 L366.45,103.30 L367.12,103.16 L367.80,103.01 L368.47,102.85 L369.15,102.67 L369.82,102.48 L370.50,102.29 L371.17,102.07 L371.84,101.85 L372.52,101.62 L373.19,101.37 L373.87,101.12 L374.54,100.85 L375.21,100.57 L375.89,100.28 L376.56,99.98 L377.24,99.67 L377.91,99.35 L378.59,99.01 L379.26,98.67 L379.93,98.32 L380.61,97.96 L381.28,97.58 L381.96,97.20 L382.63,96.81 L383.30,96.41 L383.98,96.00 L384.65,95.58 L385.33,95.15 L386.00,94.72 L386.68,94.27 L387.35,93.82 L388.02,93.36 L388.70,92.89 L389.37,92.42 L390.05,91.94 L390.72,91.44 L391.39,90.95 L392.07,90.44 L392.74,89.93 L393.42,89.41 L394.09,88.89 L394.77,88.36 L395.44,87.82 L396.11,87.28 L396.79,86.73 L397.46,86.17 L398.14,85.61 L398.81,85.05 L399.48,84.48 L400.16,83.90 L400.83,83.32 L401.51,82.73 L402.18,82.14 L402.86,81.55 L403.53,80.95 L404.20,80.34 L404.88,79.74 L405.55,79.12 L406.23,78.51 L406.90,77.89 L407.57,77.26 L408.25,76.63 L408.92,76.00 L409.60,75.36 L410.27,74.73 L410.95,74.08 L411.62,73.44 L412.29,72.79 L412.97,72.14 L413.64,71.48 L414.32,70.82 L414.99,70.16 L415.66,69.50 L416.34,68.83 L417.01,68.16 L417.69,67.49 L418.36,66.82 L419.04,66.14 L419.71,65.46 L420.38,64.78 L421.06,64.10 L421.73,63.41 L422.41,62.72 L423.08,62.03 L423.75,61.34 L424.43,60.64 L425.10,59.95 L425.78,59.25 L426.45,58.55 L427.12,57.85 L427.80,57.14 L428.47,56.44 L429.15,55.73 L429.82,55.02 L430.50,54.31 L431.17,53.60 L431.84,52.88 L432.52,52.17 L433.19,51.45 L433.87,50.73 L434.54,50.01 L435.22,49.29 L435.89,48.57 L436.56,47.84 L437.24,47.12 L437.91,46.39 L438.59,45.66 L439.26,44.93 L439.93,44.20 L440.61,43.47 L441.28,42.74 L441.96,42.01 L442.63,41.27 L443.31,40.53 L443.98,39.80 L444.65,39.06 L445.33,38.32 L446.00,37.58 L446.68,36.84 L447.35,36.10"/>
<path stroke="#1f77b4" d="M285.55,214.81 L286.22,214.34 L286.90,213.86 L287.57,213.39 L288.25,212.92 L288.92,212.45 L289.60,211.99 L290.27,211.52 L290.94,211.05 L291.62,210.59 L292.29,210.13 L292.97,209.66 L293.64,209.20 L294.31,208.74 L294.99,208.28 L295.66,207.83 L296.34,207.37 L297.01,206.91 L297.69,206.46 L298.36,206.01 L299.03,205.56 L299.71,205.11 L300.38,204.66 L301.06,204.21 L301.73,203.77 L302.40,203.33 L303.08,202.88 L303.75,202.44 L304.43,202.01 L305.10,201.57 L305.78,201.13 L306.45,200.70 L307.12,200.27 L307.80,199.84 L308.47,199.41 L309.15,198.99 L309.82,198.56 L310.49,198.14 L311.17,197.72 L311.84,197.31 L312.52,196.89 L313.19,196.48 L313.87,196.07 L314.54,195.66 L315.21,195.26 L315.89,194.85 L316.56,194.45 L317.24,194.06 L317.91,193.66 L318.58,193.27 L319.26,192.88 L319.93,192.49 L320.61,192.11 L321.28,191.73 L321.96,191.36 L322.63,190.98 L323.30,190.61 L323.98,190.25 L324.65,189.88 L325.33,189.52 L326.00,189.17 L326.67,188.82 L327.35,188.47 L328.02,188.13 L328.70,187.79 L329.37,187.45 L330.05,187.12 L330.72,186.79 L331.39,186.47 L332.07,186.16 L332.74,185.84 L333.42,185.54 L334.09,185.24 L334.76,184.94 L335.44,184.65 L336.11,184.36 L336.79,184.08 L337.46,183.81 L338.13,183.54 L338.81,183.28 L339.48,183.02 L340.16,182.77 L340.83,182.53 L341.51,182.30 L342.18,182.07 L342.85,181.85 L343.53,181.63 L344.20,181.43 L344.88,181.23 L345.55,181.03 L346.23,180.85 L346.90,180.68 L347.57,180.51 L348.25,180.35 L348.92,180.20 L349.60,180.06 L350.27,179.93 L350.94,179.81 L351.62,179.70 L352.29,179.59 L352.97,179.50 L353.64,179.42 L354.31,179.34 L354.99,179.28 L355.66,179.23 L356.34,179.18 L357.01,179.15 L357.69,179.13 L358.36,179.12 L359.03,179.12 L359.71,179.14 L360.38,179.16 L361.06,179.20 L361.73,179.24 L362.41,179.30 L363.08,179.37 L363.75,179.45 L364.43,179.54 L365.10,179.65 L365.78,179.77 L366.45,179.90 L367.12,180.04 L367.80,180.19 L368.47,180.35 L369.15,180.53 L369.82,180.72 L370.50,180.91 L371.17,181.13 L371.84,181.35 L372.52,181.58 L373.19,181.83 L373.87,182.08 L374.54,182.35 L375.21,182.63 L375.89,182.92 L376.56,183.22 L377.24,183.53 L377.91,183.85 L378.59,184.19 L379.26,184.53 L379.93,184.88 L380.61,185.24 L381.28,185.62 L381.96,186.00 L382.63,186.39 L383.30,186.79 L383.98,187.20 L384.65,187.62 L385.33,188.05 L386.00,188.48 L386.68,188.93 L387.35,189.38 L388.02,189.84 L388.70,190.31 L389.37,190.78 L390.05,191.26 L390.72,191.76 L391.39,192.25 L392.07,192.76 L392.74,193.27 L393.42,193.79 L394.09,194.31 L394.77,194.84 L395.44,195.38 L396.11,195.92 L396.79,196.47 L397.46,197.03 L398.14,197.59 L398.81,198.15 L399.48,198.72 L400.16,199.30 L400.83,199.88 L401.51,200.47 L402.18,201.06 L402.86,201.65 L403.53,202.25 L404.20,202.86 L404.88,203.46 L405.55,204.08 L406.23,204.69 L406.90,205.31 L407.57,205.94 L408.25,206.57 L408.92,207.20 L409.60,207.84 L410.27,208.47 L410.95,209.12 L411.62,209.76 L412.29,210.41 L412.97,211.06 L413.64,211.72 L414.32,212.38 L414.99,213.04 L415.66,213.70 L416.34,214.37 L417.01,215.04 L417.69,215.71 L418.36,216.38 L419.04,217.06 L419.71,217.74 L420.38,218.42 L421.06,219.10 L421.73,219.79 L422.41,220.48 L423.08,221.17 L423.75,221.86 L424.43,222.56 L425.10,223.25 L425.78,223.95 L426.45,224.65 L427.12,225.35 L427.80,226.06 L428.47,226.76 L429.15,227.47 L429.82,228.18 L430.50,228.89 L431.17,229.60 L431.84,230.32 L432.52,231.03 L433.19,231.75 L433.87,232.47 L434.54,233.19 L435.22,233.91 L435.89,234.63 L436.56,235.36 L437.24,236.08 L437.91,236.81 L438.59,237.54 L439.26,238.27 L439.93,239.00 L440.61,239.73 L441.28,240.46 L441.96,241.19 L442.63,241.93 L443.31,242.67 L443.98,243.40 L444.65,244.14 L445.33,244.88 L446.00,245.62 L446.68,246.36 L447.35,247.10"/>
<path stroke="#ff7f0e" d="M285.55,36.10 L286.22,36.84 L286.90,37.58 L287.57,38.32 L288.25,39.06 L288.92,39.80 L289.60,40.53 L290.27,41.27 L290.94,42.01 L291.62,42.74 L292.29,43.47 L292.97,44.20 L293.64,44.93 L294.31,45.66 L294.99,46.39 L295.66,47.12 L296.34,47.84 L297.01,48.57 L297.69,49.29 L298.36,50.01 L299.03,50.73 L299.71,51.45 L300.38,52.17 L301.06,52.88 L301.73,53.60 L302.40,54.31 L303.08,55.02 L303.75,55.73 L304.43,56.44 L305.10,57.14 L305.78,57.85 L306.45,58.55 L307.12,59.25 L307.80,59.95 L308.47,60.64 L309.15,61.34 L309.82,62.03 L310.49,62.72 L311.17,63.41 L311.84,64.10 L312.52,64.78 L313.19,65.46 L313.87,66.14 L314.54,66.82 L315.21,67.49 L315.89,68.16 L316.56,68.83 L317.24,69.50 L317.91,70.16 L318.58,70.82 L319.26,71.48 L319.93,72.14 L320.61,72.79 L321.28,73.44 L321.96,74.08 L322.63,74.73 L323.30,75.36 L323.98,76.00 L324.65,76.63 L325.33,77.26 L326.00,77.89 L326.67,78.51 L327.35,79.12 L328.02,79.74 L328.70,80.34 L329.37,80.95 L330.05,81.55 L330.72,82.14 L331.39,82.73 L332.07,83.32 L332.74,83.90 L333.42,84.48 L334.09,85.05 L334.76,85.61 L335.44,86.17 L336.11,86.73 L336.79,87.28 L337.46,87.82 L338.13,88.36 L338.81,88.89 L339.48,89.41 L340.16,89.93 L340.83,90.44 L341.51,90.95 L342.18,91.44 L342.85,91.94 L343.53,92.42 L344.20,92.89 L344.88,93.36 L345.55,93.82 L346.23,94.27 L346.90,94.72 L347.57,95.15 L348.25,95.58 L348.92,96.00 L349.60,96.41 L350.27,96.81 L350.94,97.20 L351.62,97.58 L352.29,97.96 L352.97,98.32 L353.64,98.67 L354.31,99.01 L354.99,99.35 L355.66,99.67 L356.34,99.98 L357.01,100.28 L357.69,100.57 L358.36,100.85 L359.03,101.12 L359.71,101.37 L360.38,101.62 L361.06,101.85 L361.73,102.07 L362.41,102.29 L363.08,102.48 L363.75,102.67 L364.43,102.85 L365.10,103.01 L365.78,103.16 L366.45,103.30 L367.12,103.43 L367.80,103.55 L368.47,103.66 L369.15,103.75 L369.82,103.83 L370.50,103.90 L371.17,103.96 L371.84,104.00 L372.52,104.04 L373.19,104.06 L373.87,104.08 L374.54,104.08 L375.21,104.07 L375.89,104.05 L376.56,104.02 L377.24,103.97 L377.91,103.92 L378.59,103.86 L379.26,103.78 L379.93,103.70 L380.61,103.61 L381.28,103.50 L381.96,103.39 L382.63,103.27 L383.30,103.14 L383.98,103.00 L384.65,102.85 L385.33,102.69 L386.00,102.52 L386.68,102.35 L387.35,102.17 L388.02,101.97 L388.70,101.77 L389.37,101.57 L390.05,101.35 L390.72,101.13 L391.39,100.90 L392.07,100.67 L392.74,100.43 L393.42,100.18 L394.09,99.92 L394.77,99.66 L395.44,99.39 L396.11,99.12 L396.79,98.84 L397.46,98.55 L398.14,98.26 L398.81,97.96 L399.48,97.66 L400.16,97.36 L400.83,97.04 L401.51,96.73 L402.18,96.41 L402.86,96.08 L403.53,95.75 L404.20,95.41 L404.88,95.07 L405.55,94.73 L406.23,94.38 L406.90,94.03 L407.57,93.68 L408.25,93.32 L408.92,92.95 L409.60,92.59 L410.27,92.22 L410.95,91.84 L411.62,91.47 L412.29,91.09 L412.97,90.71 L413.64,90.32 L414.32,89.93 L414.99,89.54 L415.66,89.14 L416.34,88.75 L417.01,88.35 L417.69,87.94 L418.36,87.54 L419.04,87.13 L419.71,86.72 L420.38,86.31 L421.06,85.89 L421.73,85.48 L422.41,85.06 L423.08,84.64 L423.75,84.21 L424.43,83.79 L425.10,83.36 L425.78,82.93 L426.45,82.50 L427.12,82.07 L427.80,81.63 L428.47,81.19 L429.15,80.76 L429.82,80.32 L430.50,79.87 L431.17,79.43 L431.84,78.99 L432.52,78.54 L433.19,78.09 L433.87,77.64 L434.54,77.19 L435.22,76.74 L435.89,76.29 L436.56,75.83 L437.24,75.37 L437.91,74.92 L438.59,74.46 L439.26,74.00 L439.93,73.54 L440.61,73.07 L441.28,72.61 L441.96,72.15 L442.63,71.68 L443.31,71.21 L443.98,70.75 L444.65,70.28 L445.33,69.81 L446.00,69.34 L446.68,68.86 L447.35,68.39"/>
<path stroke="#ff7f0e" d="M285.55,247.10 L286.22,246.36 L286.90,245.62 L287.57,244.88 L288.25,244.14 L288.92,243.40 L289.60,242.67 L290.27,241.93 L290.94,241.19 L291.62,240.46 L292.29,239.73 L292.97,239.00 L293.64,238.27 L294.31,237.54 L294.99,236.81 L295.66,236.08 L296.34,235.36 L297.01,234.63 L297.69,233.91 L298.36,233.19 L299.03,232.47 L299.71,231.75 L300.38,231.03 L301.06,230.32 L301.73,229.60 L302.40,228.89 L303.08,228.18 L303.75,227.47 L304.43,226.76 L305.10,226.06 L305.78,225.35 L306.45,224.65 L307.12,223.95 L307.80,223.25 L308.47,222.56 L309.15,221.86 L309.82,221.17 L310.49,220.48 L311.17,219.79 L311.84,219.10 L312.52,218.42 L313.19,217.74 L313.87,217.06 L314.54,216.38 L315.21,215.71 L315.89,215.04 L316.56,214.37 L317.24,213.70 L317.91,213.04 L318.58,212.38 L319.26,211.72 L319.93,211.06 L320.61,210.41 L321.28,209.76 L321.96,209.12 L322.63,208.47 L323.30,207.84 L323.98,207.20 L324.65,206.57 L325.33,205.94 L326.00,205.31 L326.67,204.69 L327.35,204.08 L328.02,203.46 L328.70,202.86 L329.37,202.25 L330.05,201.65 L330.72,201.06 L331.39,200.47 L332.07,199.88 L332.74,199.30 L333.42,198.72 L334.09,198.15 L334.76,197.59 L335.44,197.03 L336.11,196.47 L336.79,195.92 L337.46,195.38 L338.13,194.84 L338.81,194.31 L339.48,193.79 L340.16,193.27 L340.83,192.76 L341.51,192.25 L342.18,191.76 L342.85,191.26 L343.53,190.78 L344.20,190.31 L344.88,189.84 L345.55,189.38 L346.23,188.93 L346.90,188.48 L347.57,188.05 L348.25,187.62 L348.92,187.20 L349.60,186.79 L350.27,186.39 L350.94,186.00 L351.62,185.62 L352.29,185.24 L352.97,184.88 L353.64,184.53 L354.31,184.19 L354.99,183.85 L355.66,183.53 L356.34,183.22 L357.01,182.92 L357.69,182.63 L358.36,182.35 L359.03,182.08 L359.71,181.83 L360.38,181.58 L361.06,181.35 L361.73,181.13 L362.41,180.91 L363.08,180.72 L363.75,180.53 L364.43,180.35 L365.10,180.19 L365.78,180.04 L366.45,179.90 L367.12,179.77 L367.80,179.65 L368.47,179.54 L369.15,179.45 L369.82,179.37 L370.50,179.30 L371.17,179.24 L371.84,179.20 L372.52,179.16 L373.19,179.14 L373.87,179.12 L374.54,179.12 L375.21,179.13 L375.89,179.15 L376.56,179.18 L377.24,179.23 L377.91,179.28 L378.59,179.34 L379.26,179.42 L379.93,179.50 L380.61,179.59 L381.28,179.70 L381.96,179.81 L382.63,179.93 L383.30,180.06 L383.98,180.20 L384.65,180.35 L385.33,180.51 L386.00,180.68 L386.68,180.85 L387.35,181.03 L388.02,181.23 L388.70,181.43 L389.37,181.63 L390.05,181.85 L390.72,182.07 L391.39,182.30 L392.07,182.53 L392.74,182.77 L393.42,183.02 L394.09,183.28 L394.77,183.54 L395.44,183.81 L396.11,184.08 L396.79,184.36 L397.46,184.65 L398.14,184.94 L398.81,185.24 L399.48,185.54 L400.16,185.84 L400.83,186.16 L401.51,186.47 L402.18,186.79 L402.86,187.12 L403.53,187.45 L404.20,187.79 L404.88,188.13 L405.55,188.47 L406.23,188.82 L406.90,189.17 L407.57,189.52 L408.25,189.88 L408.92,190.25 L409.60,190.61 L410.27,190.98 L410.95,191.36 L411.62,191.73 L412.29,192.11 L412.97,192.49 L413.64,192.88 L414.32,193.27 L414.99,193.66 L415.66,194.06 L416.34,194.45 L417.01,194.85 L417.69,195.26 L418.36,195.66 L419.04,196.07 L419.71,196.48 L420.38,196.89 L421.06,197.31 L421.73,197.72 L422.41,198.14 L423.08,198.56 L423.75,198.99 L424.43,199.41 L425.10,199.84 L425.78,200.27 L426.45,200.70 L427.12,201.13 L427.80,201.57 L428.47,202.01 L429.15,202.44 L429.82,202.88 L430.50,203.33 L431.17,203.77 L431.84,204.21 L432.52,204.66 L433.19,205.11 L433.87,205.56 L434.54,206.01 L435.22,206.46 L435.89,206.91 L436.56,207.37 L437.24,207.83 L437.91,208.28 L438.59,208.74 L439.26,209.20 L439.93,209.66 L440.61,210.13 L441.28,210.59 L441.96,211.05 L442.63,211.52 L443.31,211.99 L443.98,212.45 L444.65,212.92 L445.33,213.39 L446.00,213.86 L446.68,214.34 L447.35,214.81"/>
<path stroke="#d62728" d="M285.55,76.01 L286.22,76.54 L286.90,77.07 L287.57,77.60 L288.25,78.13 L288.92,78.66 L289.60,79.19 L290.27,79.72 L290.94,80.25 L291.62,80.77 L292.29,81.30 L292.97,81.83 L293.64,82.36 L294.31,82.89 L294.99,83.41 L295.66,83.94 L296.34,84.47 L297.01,85.00 L297.69,85.52 L298.36,86.05 L299.03,86.58 L299.71,87.10 L300.38,87.63 L301.06,88.16 L301.73,88.68 L302.40,89.21 L303.08,89.73 L303.75,90.26 L304.43,90.78 L305.10,91.31 L305.78,91.83 L306.45,92.35 L307.12,92.88 L307.80,93.40 L308.47,93.92 L309.15,94.44 L309.82,94.97 L310.49,95.49 L311.17,96.01 L311.84,96.53 L312.52,97.05 L313.19,97.57 L313.87,98.09 L314.54,98.61 L315.21,99.13 L315.89,99.64 L316.56,100.16 L317.24,100.68 L317.91,101.19 L318.58,101.71 L319.26,102.23 L319.93,102.74 L320.61,103.25 L321.28,103.77 L321.96,104.28 L322.63,104.79 L323.30,105.30 L323.98,105.81 L324.65,106.32 L325.33,106.83 L326.00,107.34 L326.67,107.84 L327.35,108.35 L328.02,108.85 L328.70,109.36 L329.37,109.86 L330.05,110.36 L330.72,110.86 L331.39,111.36 L332.07,111.85 L332.74,112.35 L333.42,112.84 L334.09,113.33 L334.76,113.82 L335.44,114.31 L336.11,114.80 L336.79,115.28 L337.46,115.77 L338.13,116.25 L338.81,116.72 L339.48,117.20 L340.16,117.67 L340.83,118.14 L341.51,118.60 L342.18,119.07 L342.85,119.52 L343.53,119.98 L344.20,120.43 L344.88,120.88 L345.55,121.32 L346.23,121.76 L346.90,122.19 L347.57,122.61 L348.25,123.03 L348.92,123.44 L349.60,123.85 L350.27,124.25 L350.94,124.64 L351.62,125.01 L352.29,125.38 L352.97,125.74 L353.64,126.09 L354.31,126.43 L354.99,126.75 L355.66,127.05 L356.34,127.35 L357.01,127.62 L357.69,127.88 L358.36,128.11 L359.03,128.32 L359.71,128.52 L360.38,128.68 L361.06,128.82 L361.73,128.94 L362.41,129.02 L363.08,129.07 L363.75,129.09 L364.43,129.08 L365.10,129.03 L365.78,128.95 L366.45,128.83 L367.12,128.68 L367.80,128.50 L368.47,128.27 L369.15,128.02 L369.82,127.73 L370.50,127.40 L371.17,127.05 L371.84,126.67 L372.52,126.26 L373.19,125.82 L373.87,125.36 L374.54,124.88 L375.21,124.38 L375.89,123.85 L376.56,123.31 L377.24,122.75 L377.91,122.17 L378.59,121.58 L379.26,120.98 L379.93,120.36 L380.61,119.73 L381.28,119.09 L381.96,118.45 L382.63,117.79 L383.30,117.12 L383.98,116.45 L384.65,115.77 L385.33,115.08 L386.00,114.38 L386.68,113.68 L387.35,112.98 L388.02,112.27 L388.70,111.55 L389.37,110.83 L390.05,110.11 L390.72,109.38 L391.39,108.65 L392.07,107.91 L392.74,107.17 L393.42,106.43 L394.09,105.69 L394.77,104.94 L395.44,104.19 L396.11,103.44 L396.79,102.69 L397.46,101.93 L398.14,101.18 L398.81,100.42 L399.48,99.66 L400.16,98.89 L400.83,98.13 L401.51,97.36 L402.18,96.60 L402.86,95.83 L403.53,95.06 L404.20,94.29 L404.88,93.51 L405.55,92.74 L406.23,91.97 L406.90,91.19 L407.57,90.41 L408.25,89.64 L408.92,88.86 L409.60,88.08 L410.27,87.30 L410.95,86.52 L411.62,85.74 L412.29,84.95 L412.97,84.17 L413.64,83.39 L414.32,82.60 L414.99,81.82 L415.66,81.03 L416.34,80.25 L417.01,79.46 L417.69,78.67 L418.36,77.89 L419.04,77.10 L419.71,76.31 L420.38,75.52 L421.06,74.73 L421.73,73.94 L422.41,73.15 L423.08,72.36 L423.75,71.57 L424.43,70.78 L425.10,69.99 L425.78,69.19 L426.45,68.40 L427.12,67.61 L427.80,66.82 L428.47,66.02 L429.15,65.23 L429.82,64.44 L430.50,63.64 L431.17,62.85 L431.84,62.05 L432.52,61.26 L433.19,60.46 L433.87,59.67 L434.54,58.87 L435.22,58.07 L435.89,57.28 L436.56,56.48 L437.24,55.69 L437.91,54.89 L438.59,54.09 L439.26,53.30 L439.93,52.50 L440.61,51.70 L441.28,50.90 L441.96,50.11 L442.63,49.31 L443.31,48.51 L443.98,47.71 L444.65,46.91 L445.33,46.11 L446.00,45.31 L446.68,44.52 L447.35,43.72"/>
<path stroke="#d62728" d="M285.55,207.19 L286.22,206.66 L286.90,206.13 L287.57,205.60 L288.25,205.07 L288.92,204.54 L289.60,204.01 L290.27,203.48 L290.94,202.95 L291.62,202.43 L292.29,201.90 L292.97,201.37 L293.64,200.84 L294.31,200.31 L294.99,199.79 L295.66,199.26 L296.34,198.73 L297.01,198.20 L297.69,197.68 L298.36,197.15 L299.03,196.62 L299.71,196.10 L300.38,195.57 L301.06,195.04 L301.73,194.52 L302.40,193.99 L303.08,193.47 L303.75,192.94 L304.43,192.42 L305.10,191.89 L305.78,191.37 L306.45,190.85 L307.12,190.32 L307.80,189.80 L308.47,189.28 L309.15,188.76 L309.82,188.23 L310.49,187.71 L311.17,187.19 L311.84,186.67 L312.52,186.15 L313.19,185.63 L313.87,185.11 L314.54,184.59 L315.21,184.07 L315.89,183.56 L316.56,183.04 L317.24,182.52 L317.91,182.01 L318.58,181.49 L319.26,180.97 L319.93,180.46 L320.61,179.95 L321.28,179.43 L321.96,178.92 L322.63,178.41 L323.30,177.90 L323.98,177.39 L324.65,176.88 L325.33,176.37 L326.00,175.86 L326.67,175.36 L327.35,174.85 L328.02,174.35 L328.70,173.84 L329.37,173.34 L330.05,172.84 L330.72,172.34 L331.39,171.84 L332.07,171.35 L332.74,170.85 L333.42,170.36 L334.09,169.87 L334.76,169.38 L335.44,168.89 L336.11,168.40 L336.79,167.92 L337.46,167.43 L338.13,166.95 L338.81,166.48 L339.48,166.00 L340.16,165.53 L340.83,165.06 L341.51,164.60 L342.18,164.13 L342.85,163.68 L343.53,163.22 L344.20,162.77 L344.88,162.32 L345.55,161.88 L346.23,161.44 L346.90,161.01 L347.57,160.59 L348.25,160.17 L348.92,159.76 L349.60,159.35 L350.27,158.95 L350.94,158.56 L351.62,158.19 L352.29,157.82 L352.97,157.46 L353.64,157.11 L354.31,156.77 L354.99,156.45 L355.66,156.15 L356.34,155.85 L357.01,155.58 L357.69,155.32 L358.36,155.09 L359.03,154.88 L359.71,154.68 L360.38,154.52 L361.06,154.38 L361.73,154.26 L362.41,154.18 L363.08,154.13 L363.75,154.11 L364.43,154.12 L365.10,154.17 L365.78,154.25 L366.45,154.37 L367.12,154.52 L367.80,154.70 L368.47,154.93 L369.15,155.18 L369.82,155.47 L370.50,155.80 L371.17,156.15 L371.84,156.53 L372.52,156.94 L373.19,157.38 L373.87,157.84 L374.54,158.32 L375.21,158.82 L375.89,159.35 L376.56,159.89 L377.24,160.45 L377.91,161.03 L378.59,161.62 L379.26,162.22 L379.93,162.84 L380.61,163.47 L381.28,164.11 L381.96,164.75 L382.63,165.41 L383.30,166.08 L383.98,166.75 L384.65,167.43 L385.33,168.12 L386.00,168.82 L386.68,169.52 L387.35,170.22 L388.02,170.93 L388.70,171.65 L389.37,172.37 L390.05,173.09 L390.72,173.82 L391.39,174.55 L392.07,175.29 L392.74,176.03 L393.42,176.77 L394.09,177.51 L394.77,178.26 L395.44,179.01 L396.11,179.76 L396.79,180.51 L397.46,181.27 L398.14,182.02 L398.81,182.78 L399.48,183.54 L400.16,184.31 L400.83,185.07 L401.51,185.84 L402.18,186.60 L402.86,187.37 L403.53,188.14 L404.20,188.91 L404.88,189.69 L405.55,190.46 L406.23,191.23 L406.90,192.01 L407.57,192.79 L408.25,193.56 L408.92,194.34 L409.60,195.12 L410.27,195.90 L410.95,196.68 L411.62,197.46 L412.29,198.25 L412.97,199.03 L413.64,199.81 L414.32,200.60 L414.99,201.38 L415.66,202.17 L416.34,202.95 L417.01,203.74 L417.69,204.53 L418.36,205.31 L419.04,206.10 L419.71,206.89 L420.38,207.68 L421.06,208.47 L421.73,209.26 L422.41,210.05 L423.08,210.84 L423.75,211.63 L424.43,212.42 L425.10,213.21 L425.78,214.01 L426.45,214.80 L427.12,215.59 L427.80,216.38 L428.47,217.18 L429.15,217.97 L429.82,218.76 L430.50,219.56 L431.17,220.35 L431.84,221.15 L432.52,221.94 L433.19,222.74 L433.87,223.53 L434.54,224.33 L435.22,225.13 L435.89,225.92 L436.56,226.72 L437.24,227.51 L437.91,228.31 L438.59,229.11 L439.26,229.90 L439.93,230.70 L440.61,231.50 L441.28,232.30 L441.96,233.09 L442.63,233.89 L443.31,234.69 L443.98,235.49 L444.65,236.29 L445.33,237.09 L446.00,237.89 L446.68,238.68 L447.35,239.48"/>
<path stroke="#2ca02c" d="M285.55,43.72 L286.22,44.52 L286.90,45.31 L287.57,46.11 L288.25,46.91 L288.92,47.71 L289.60,48.51 L290.27,49.31 L290.94,50.11 L291.62,50.90 L292.29,51.70 L292.97,52.50 L293.64,53.30 L294.31,54.09 L294.99,54.89 L295.66,55.69 L296.34,56.48 L297.01,57.28 L297.69,58.07 L298.36,58.87 L299.03,59.67 L299.71,60.46 L300.38,61.26 L301.06,62.05 L301.73,62.85 L302.40,63.64 L303.08,64.44 L303.75,65.23 L304.43,66.02 L305.10,66.82 L305.78,67.61 L306.45,68.40 L307.12,69.19 L307.80,69.99 L308.47,70.78 L309.15,71.57 L309.82,72.36 L310.49,73.15 L311.17,73.94 L311.84,74.73 L312.52,75.52 L313.19,76.31 L313.87,77.10 L314.54,77.89 L315.21,78.67 L315.89,79.46 L316.56,80.25 L317.24,81.03 L317.91,81.82 L318.58,82.60 L319.26,83.39 L319.93,84.17 L320.61,84.95 L321.28,85.74 L321.96,86.52 L322.63,87.30 L323.30,88.08 L323.98,88.86 L324.65,89.64 L325.33,90.41 L326.00,91.19 L326.67,91.97 L327.35,92.74 L328.02,93.51 L328.70,94.29 L329.37,95.06 L330.05,95.83 L330.72,96.60 L331.39,97.36 L332.07,98.13 L332.74,98.89 L333.42,99.66 L334.09,100.42 L334.76,101.18 L335.44,101.93 L336.11,102.69 L336.79,103.44 L337.46,104.19 L338.13,104.94 L338.81,105.69 L339.48,106.43 L340.16,107.17 L340.83,107.91 L341.51,108.65 L342.18,109.38 L342.85,110.11 L343.53,110.83 L344.20,111.55 L344.88,112.27 L345.55,112.98 L346.23,113.68 L346.90,114.38 L347.57,115.08 L348.25,115.77 L348.92,116.45 L349.60,117.12 L350.27,117.79 L350.94,118.45 L351.62,119.09 L352.29,119.73 L352.97,120.36 L353.64,120.98 L354.31,121.58 L354.99,122.17 L355.66,122.75 L356.34,123.31 L357.01,123.85 L357.69,124.38 L358.36,124.88 L359.03,125.36 L359.71,125.82 L360.38,126.26 L361.06,126.67 L361.73,127.05 L362.41,127.40 L363.08,127.73 L363.75,128.02 L364.43,128.27 L365.10,128.50 L365.78,128.68 L366.45,128.83 L367.12,128.95 L367.80,129.03 L368.47,129.08 L369.15,129.09 L369.82,129.07 L370.50,129.02 L371.17,128.94 L371.84,128.82 L372.52,128.68 L373.19,128.52 L373.87,128.32 L374.54,128.11 L375.21,127.88 L375.89,127.62 L376.56,127.35 L377.24,127.05 L377.91,126.75 L378.59,126.43 L379.26,126.09 L379.93,125.74 L380.61,125.38 L381.28,125.01 L381.96,124.64 L382.63,124.25 L383.30,123.85 L383.98,123.44 L384.65,123.03 L385.33,122.61 L386.00,122.19 L386.68,121.76 L387.35,121.32 L388.02,120.88 L388.70,120.43 L389.37,119.98 L390.05,119.52 L390.72,119.07 L391.39,118.60 L392.07,118.14 L392.74,117.67 L393.42,117.20 L394.09,116.72 L394.77,116.25 L395.44,115.77 L396.11,115.28 L396.79,114.80 L397.46,114.31 L398.14,113.82 L398.81,113.33 L399.48,112.84 L400.16,112.35 L400.83,111.85 L401.51,111.36 L402.18,110.86 L402.86,110.36 L403.53,109.86 L404.20,109.36 L404.88,108.85 L405.55,108.35 L406.23,107.84 L406.90,107.34 L407.57,106.83 L408.25,106.32 L408.92,105.81 L409.60,105.30 L410.27,104.79 L410.95,104.28 L411.62,103.77 L412.29,103.25 L412.97,102.74 L413.64,102.23 L414.32,101.71 L414.99,101.19 L415.66,100.68 L416.34,100.16 L417.01,99.64 L417.69,99.13 L418.36,98.61 L419.04,98.09 L419.71,97.57 L420.38,97.05 L421.06,96.53 L421.73,96.01 L422.41,95.49 L423.08,94.97 L423.75,94.44 L424.43,93.92 L425.10,93.40 L425.78,92.88 L426.45,92.35 L427.12,91.83 L427.80,91.31 L428.47,90.78 L429.15,90.26 L429.82,89.73 L430.50,89.21 L431.17,88.68 L431.84,88.16 L432.52,87.63 L433.19,87.10 L433.87,86.58 L434.54,86.05 L435.22,85.52 L435.89,85.00 L436.56,84.47 L437.24,83.94 L437.91,83.41 L438.59,82.89 L439.26,82.36 L439.93,81.83 L440.61,81.30 L441.28,80.77 L441.96,80.25 L442.63,79.72 L443.31,79.19 L443.98,78.66 L444.65,78.13 L445.33,77.60 L446.00,77.07 L446.68,76.54 L447.35,76.01"/>
<path stroke="#2ca02c" d="M285.55,239.48 L286.22,238.68 L286.90,237.89 L287.57,237.09 L288.25,236.29 L288.92,235.49 L289.60,234.69 L290.27,233.89 L290.94,233.09 L291.62,232.30 L292.29,231.50 L292.97,230.70 L293.64,229.90 L294.31,229.11 L294.99,228.31 L295.66,227.51 L296.34,226.72 L297.01,225.92 L297.69,225.13 L298.36,224.33 L299.03,223.53 L299.71,222.74 L300.38,221.94 L301.06,221.15 L301.73,220.35 L302.40,219.56 L303.08,218.76 L303.75,217.97 L304.43,217.18 L305.10,216.38 L305.78,215.59 L306.45,214.80 L307.12,214.01 L307.80,213.21 L308.47,212.42 L309.15,211.63 L309.82,210.84 L310.49,210.05 L311.17,209.26 L311.84,208.47 L312.52,207.68 L313.19,206.89 L313.87,206.10 L314.54,205.31 L315.21,204.53 L315.89,203.74 L316.56,202.95 L317.24,202.17 L317.91,201.38 L318.58,200.60 L319.26,199.81 L319.93,199.03 L320.61,198.25 L321.28,197.46 L321.96,196.68 L322.63,195.90 L323.30,195.12 L323.98,194.34 L324.65,193.56 L325.33,192.79 L326.00,192.01 L326.67,191.23 L327.35,190.46 L328.02,189.69 L328.70,188.91 L329.37,188.14 L330.05,187.37 L330.72,186.60 L331.39,185.84 L332.07,185.07 L332.74,184.31 L333.42,183.54 L334.09,182.78 L334.76,182.02 L335.44,181.27 L336.11,180.51 L336.79,179.76 L337.46,179.01 L338.13,178.26 L338.81,177.51 L339.48,176.77 L340.16,176.03 L340.83,175.29 L341.51,174.55 L342.18,173.82 L342.85,173.09 L343.53,172.37 L344.20,171.65 L344.88,170.93 L345.55,170.22 L346.23,169.52 L346.90,168.82 L347.57,168.12 L348.25,167.43 L348.92,166.75 L349.60,166.08 L350.27,165.41 L350.94,164.75 L351.62,164.11 L352.29,163.47 L352.97,162.84 L353.64,162.22 L354.31,161.62 L354.99,161.03 L355.66,160.45 L356.34,159.89 L357.01,159.35 L357.69,158.82 L358.36,158.32 L359.03,157.84 L359.71,157.38 L360.38,156.94 L361.06,156.53 L361.73,156.15 L362.41,155.80 L363.08,155.47 L363.75,155.18 L364.43,154.93 L365.10,154.70 L365.78,154.52 L366.45,154.37 L367.12,154.25 L367.80,154.17 L368.47,154.12 L369.15,154.11 L369.82,154.13 L370.50,154.18 L371.17,154.26 L371.84,154.38 L372.52,154.52 L373.19,154.68 L373.87,154.88 L374.54,155.09 L375.21,155.32 L375.89,155.58 L376.56,155.85 L377.24,156.15 L377.91,156.45 L378.59,156.77 L379.26,157.11 L379.93,157.46 L380.61,157.82 L381.28,158.19 L381.96,158.56 L382.63,158.95 L383.30,159.35 L383.98,159.76 L384.65,160.17 L385.33,160.59 L386.00,161.01 L386.68,161.44 L387.35,161.88 L388.02,162.32 L388.70,162.77 L389.37,163.22 L390.05,163.68 L390.72,164.13 L391.39,164.60 L392.07,165.06 L392.74,165.53 L393.42,166.00 L394.09,166.48 L394.77,166.95 L395.44,167.43 L396.11,167.92 L396.79,168.40 L397.46,168.89 L398.14,169.38 L398.81,169.87 L399.48,170.36 L400.16,170.85 L400.83,171.35 L401.51,171.84 L402.18,172.34 L402.86,172.84 L403.53,173.34 L404.20,173.84 L404.88,174.35 L405.55,174.85 L406.23,175.36 L406.90,175.86 L407.57,176.37 L408.25,176.88 L408.92,177.39 L409.60,177.90 L410.27,178.41 L410.95,178.92 L411.62,179.43 L412.29,179.95 L412.97,180.46 L413.64,180.97 L414.32,181.49 L414.99,182.01 L415.66,182.52 L416.34,183.04 L417.01,183.56 L417.69,184.07 L418.36,184.59 L419.04,185.11 L419.71,185.63 L420.38,186.15 L421.06,186.67 L421.73,187.19 L422.41,187.71 L423.08,188.23 L423.75,188.76 L424.43,189.28 L425.10,189.80 L425.78,190.32 L426.45,190.85 L427.12,191.37 L427.80,191.89 L428.47,192.42 L429.15,192.94 L429.82,193.47 L430.50,193.99 L431.17,194.52 L431.84,195.04 L432.52,195.57 L433.19,196.10 L433.87,196.62 L434.54,197.15 L435.22,197.68 L435.89,198.20 L436.56,198.73 L437.24,199.26 L437.91,199.79 L438.59,200.31 L439.26,200.84 L439.93,201.37 L440.61,201.90 L441.28,202.43 L441.96,202.95 L442.63,203.48 L443.31,204.01 L443.98,204.54 L444.65,205.07 L445.33,205.60 L446.00,206.13 L446.68,206.66 L447.35,207.19"/>
</g>
<rect x="285.55" y="20.5" width="161.80" height="242.20" fill="none" stroke="#000" stroke-width="1.4"/>
<g stroke="#000" stroke-width="1.4">
<line x1="279.55" y1="262.70" x2="285.55" y2="262.70"/>
<line x1="279.55" y1="222.33" x2="285.55" y2="222.33"/>
<line x1="279.55" y1="181.97" x2="285.55" y2="181.97"/>
<line x1="279.55" y1="141.60" x2="285.55" y2="141.60"/>
<line x1="279.55" y1="101.23" x2="285.55" y2="101.23"/>
<line x1="279.55" y1="60.87" x2="285.55" y2="60.87"/>
<line x1="279.55" y1="20.50" x2="285.55" y2="20.50"/>
<line x1="285.55" y1="262.7" x2="285.55" y2="268.7"/>
<line x1="366.45" y1="262.7" x2="366.45" y2="268.7"/>
<line x1="447.35" y1="262.7" x2="447.35" y2="268.7"/>
</g>
<line x1="339.60" y1="0" x2="339.60" y2="13.6" stroke="#000" stroke-width="1.1"/>
<line x1="355.90" y1="0" x2="355.90" y2="13.6" stroke="#000" stroke-width="1.1"/>
<g stroke="#000" stroke-width="1.15"><line x1="362.00" y1="4.6" x2="370.80" y2="4.6"/><line x1="362.00" y1="7.3" x2="370.80" y2="7.3"/></g>
<defs><clipPath id="cp2"><rect x="511.95" y="20.5" width="161.80" height="242.20"/></clipPath></defs>
<g stroke="#b0b0b0" stroke-width="1.3" fill="none">
<line x1="592.85" y1="20.5" x2="592.85" y2="262.7"/>
<line x1="511.95" y1="141.60" x2="673.75" y2="141.60"/>
</g>
<g clip-path="url(#cp2)" fill="none" stroke-width="2.5" stroke-linejoin="round" stroke-linecap="butt">
<path stroke="#1f77b4" d="M511.95,67.48 L512.62,67.95 L513.30,68.42 L513.97,68.88 L514.65,69.34 L515.32,69.81 L516.00,70.27 L516.67,70.73 L517.34,71.19 L518.02,71.65 L518.69,72.10 L519.37,72.56 L520.04,73.01 L520.71,73.46 L521.39,73.92 L522.06,74.37 L522.74,74.82 L523.41,75.26 L524.09,75.71 L524.76,76.15 L525.43,76.60 L526.11,77.04 L526.78,77.48 L527.46,77.92 L528.13,78.35 L528.80,78.79 L529.48,79.22 L530.15,79.65 L530.83,80.08 L531.50,80.51 L532.17,80.94 L532.85,81.36 L533.52,81.78 L534.20,82.20 L534.87,82.62 L535.55,83.04 L536.22,83.45 L536.89,83.87 L537.57,84.27 L538.24,84.68 L538.92,85.09 L539.59,85.49 L540.26,85.89 L540.94,86.29 L541.61,86.68 L542.29,87.07 L542.96,87.46 L543.64,87.85 L544.31,88.23 L544.98,88.61 L545.66,88.99 L546.33,89.37 L547.01,89.74 L547.68,90.11 L548.36,90.47 L549.03,90.83 L549.70,91.19 L550.38,91.55 L551.05,91.90 L551.73,92.24 L552.40,92.59 L553.07,92.93 L553.75,93.26 L554.42,93.59 L555.10,93.92 L555.77,94.24 L556.44,94.56 L557.12,94.87 L557.79,95.18 L558.47,95.48 L559.14,95.78 L559.82,96.08 L560.49,96.36 L561.16,96.65 L561.84,96.92 L562.51,97.20 L563.19,97.46 L563.86,97.72 L564.53,97.98 L565.21,98.23 L565.88,98.47 L566.56,98.70 L567.23,98.93 L567.91,99.15 L568.58,99.37 L569.25,99.58 L569.93,99.78 L570.60,99.97 L571.28,100.16 L571.95,100.34 L572.62,100.51 L573.30,100.67 L573.97,100.82 L574.65,100.97 L575.32,101.10 L576.00,101.23 L576.67,101.35 L577.34,101.46 L578.02,101.57 L578.69,101.66 L579.37,101.74 L580.04,101.81 L580.72,101.88 L581.39,101.93 L582.06,101.98 L582.74,102.01 L583.41,102.03 L584.09,102.05 L584.76,102.05 L585.43,102.04 L586.11,102.02 L586.78,101.99 L587.46,101.95 L588.13,101.90 L588.80,101.84 L589.48,101.77 L590.15,101.68 L590.83,101.59 L591.50,101.48 L592.18,101.36 L592.85,101.23 L593.52,101.09 L594.20,100.94 L594.87,100.78 L595.55,100.61 L596.22,100.42 L596.89,100.22 L597.57,100.02 L598.24,99.80 L598.92,99.57 L599.59,99.33 L600.27,99.08 L600.94,98.82 L601.61,98.55 L602.29,98.27 L602.96,97.97 L603.64,97.67 L604.31,97.36 L604.99,97.03 L605.66,96.70 L606.33,96.36 L607.01,96.01 L607.68,95.65 L608.36,95.27 L609.03,94.89 L609.70,94.51 L610.38,94.11 L611.05,93.70 L611.73,93.29 L612.40,92.86 L613.08,92.43 L613.75,91.99 L614.42,91.55 L615.10,91.09 L615.77,90.63 L616.45,90.16 L617.12,89.68 L617.79,89.20 L618.47,88.71 L619.14,88.21 L619.82,87.70 L620.49,87.19 L621.16,86.67 L621.84,86.15 L622.51,85.62 L623.19,85.09 L623.86,84.55 L624.54,84.00 L625.21,83.45 L625.88,82.89 L626.56,82.33 L627.23,81.76 L627.91,81.19 L628.58,80.61 L629.25,80.03 L629.93,79.44 L630.60,78.85 L631.28,78.25 L631.95,77.65 L632.63,77.05 L633.30,76.44 L633.97,75.83 L634.65,75.21 L635.32,74.59 L636.00,73.97 L636.67,73.34 L637.35,72.71 L638.02,72.08 L638.69,71.44 L639.37,70.80 L640.04,70.15 L640.72,69.51 L641.39,68.86 L642.06,68.20 L642.74,67.55 L643.41,66.89 L644.09,66.23 L644.76,65.56 L645.43,64.90 L646.11,64.23 L646.78,63.56 L647.46,62.88 L648.13,62.21 L648.81,61.53 L649.48,60.85 L650.15,60.16 L650.83,59.48 L651.50,58.79 L652.18,58.10 L652.85,57.41 L653.52,56.72 L654.20,56.02 L654.87,55.33 L655.55,54.63 L656.22,53.93 L656.90,53.22 L657.57,52.52 L658.24,51.81 L658.92,51.11 L659.59,50.40 L660.27,49.69 L660.94,48.97 L661.62,48.26 L662.29,47.54 L662.96,46.83 L663.64,46.11 L664.31,45.39 L664.99,44.67 L665.66,43.95 L666.33,43.22 L667.01,42.50 L667.68,41.77 L668.36,41.05 L669.03,40.32 L669.70,39.59 L670.38,38.86 L671.05,38.13 L671.73,37.40 L672.40,36.66 L673.08,35.93 L673.75,35.19"/>
<path stroke="#1f77b4" d="M511.95,215.72 L512.62,215.25 L513.30,214.78 L513.97,214.32 L514.65,213.86 L515.32,213.39 L516.00,212.93 L516.67,212.47 L517.34,212.01 L518.02,211.55 L518.69,211.10 L519.37,210.64 L520.04,210.19 L520.71,209.74 L521.39,209.28 L522.06,208.83 L522.74,208.38 L523.41,207.94 L524.09,207.49 L524.76,207.05 L525.43,206.60 L526.11,206.16 L526.78,205.72 L527.46,205.28 L528.13,204.85 L528.80,204.41 L529.48,203.98 L530.15,203.55 L530.83,203.12 L531.50,202.69 L532.17,202.26 L532.85,201.84 L533.52,201.42 L534.20,201.00 L534.87,200.58 L535.55,200.16 L536.22,199.75 L536.89,199.33 L537.57,198.93 L538.24,198.52 L538.92,198.11 L539.59,197.71 L540.26,197.31 L540.94,196.91 L541.61,196.52 L542.29,196.13 L542.96,195.74 L543.64,195.35 L544.31,194.97 L544.98,194.59 L545.66,194.21 L546.33,193.83 L547.01,193.46 L547.68,193.09 L548.36,192.73 L549.03,192.37 L549.70,192.01 L550.38,191.65 L551.05,191.30 L551.73,190.96 L552.40,190.61 L553.07,190.27 L553.75,189.94 L554.42,189.61 L555.10,189.28 L555.77,188.96 L556.44,188.64 L557.12,188.33 L557.79,188.02 L558.47,187.72 L559.14,187.42 L559.82,187.12 L560.49,186.84 L561.16,186.55 L561.84,186.28 L562.51,186.00 L563.19,185.74 L563.86,185.48 L564.53,185.22 L565.21,184.97 L565.88,184.73 L566.56,184.50 L567.23,184.27 L567.91,184.05 L568.58,183.83 L569.25,183.62 L569.93,183.42 L570.60,183.23 L571.28,183.04 L571.95,182.86 L572.62,182.69 L573.30,182.53 L573.97,182.38 L574.65,182.23 L575.32,182.10 L576.00,181.97 L576.67,181.85 L577.34,181.74 L578.02,181.63 L578.69,181.54 L579.37,181.46 L580.04,181.39 L580.72,181.32 L581.39,181.27 L582.06,181.22 L582.74,181.19 L583.41,181.17 L584.09,181.15 L584.76,181.15 L585.43,181.16 L586.11,181.18 L586.78,181.21 L587.46,181.25 L588.13,181.30 L588.80,181.36 L589.48,181.43 L590.15,181.52 L590.83,181.61 L591.50,181.72 L592.18,181.84 L592.85,181.97 L593.52,182.11 L594.20,182.26 L594.87,182.42 L595.55,182.59 L596.22,182.78 L596.89,182.98 L597.57,183.18 L598.24,183.40 L598.92,183.63 L599.59,183.87 L600.27,184.12 L600.94,184.38 L601.61,184.65 L602.29,184.93 L602.96,185.23 L603.64,185.53 L604.31,185.84 L604.99,186.17 L605.66,186.50 L606.33,186.84 L607.01,187.19 L607.68,187.55 L608.36,187.93 L609.03,188.31 L609.70,188.69 L610.38,189.09 L611.05,189.50 L611.73,189.91 L612.40,190.34 L613.08,190.77 L613.75,191.21 L614.42,191.65 L615.10,192.11 L615.77,192.57 L616.45,193.04 L617.12,193.52 L617.79,194.00 L618.47,194.49 L619.14,194.99 L619.82,195.50 L620.49,196.01 L621.16,196.53 L621.84,197.05 L622.51,197.58 L623.19,198.11 L623.86,198.65 L624.54,199.20 L625.21,199.75 L625.88,200.31 L626.56,200.87 L627.23,201.44 L627.91,202.01 L628.58,202.59 L629.25,203.17 L629.93,203.76 L630.60,204.35 L631.28,204.95 L631.95,205.55 L632.63,206.15 L633.30,206.76 L633.97,207.37 L634.65,207.99 L635.32,208.61 L636.00,209.23 L636.67,209.86 L637.35,210.49 L638.02,211.12 L638.69,211.76 L639.37,212.40 L640.04,213.05 L640.72,213.69 L641.39,214.34 L642.06,215.00 L642.74,215.65 L643.41,216.31 L644.09,216.97 L644.76,217.64 L645.43,218.30 L646.11,218.97 L646.78,219.64 L647.46,220.32 L648.13,220.99 L648.81,221.67 L649.48,222.35 L650.15,223.04 L650.83,223.72 L651.50,224.41 L652.18,225.10 L652.85,225.79 L653.52,226.48 L654.20,227.18 L654.87,227.87 L655.55,228.57 L656.22,229.27 L656.90,229.98 L657.57,230.68 L658.24,231.39 L658.92,232.09 L659.59,232.80 L660.27,233.51 L660.94,234.23 L661.62,234.94 L662.29,235.66 L662.96,236.37 L663.64,237.09 L664.31,237.81 L664.99,238.53 L665.66,239.25 L666.33,239.98 L667.01,240.70 L667.68,241.43 L668.36,242.15 L669.03,242.88 L669.70,243.61 L670.38,244.34 L671.05,245.07 L671.73,245.80 L672.40,246.54 L673.08,247.27 L673.75,248.01"/>
<path stroke="#ff7f0e" d="M511.95,35.19 L512.62,35.93 L513.30,36.66 L513.97,37.40 L514.65,38.13 L515.32,38.86 L516.00,39.59 L516.67,40.32 L517.34,41.05 L518.02,41.77 L518.69,42.50 L519.37,43.22 L520.04,43.95 L520.71,44.67 L521.39,45.39 L522.06,46.11 L522.74,46.83 L523.41,47.54 L524.09,48.26 L524.76,48.97 L525.43,49.69 L526.11,50.40 L526.78,51.11 L527.46,51.81 L528.13,52.52 L528.80,53.22 L529.48,53.93 L530.15,54.63 L530.83,55.33 L531.50,56.02 L532.17,56.72 L532.85,57.41 L533.52,58.10 L534.20,58.79 L534.87,59.48 L535.55,60.16 L536.22,60.85 L536.89,61.53 L537.57,62.21 L538.24,62.88 L538.92,63.56 L539.59,64.23 L540.26,64.90 L540.94,65.56 L541.61,66.23 L542.29,66.89 L542.96,67.55 L543.64,68.20 L544.31,68.86 L544.98,69.51 L545.66,70.15 L546.33,70.80 L547.01,71.44 L547.68,72.08 L548.36,72.71 L549.03,73.34 L549.70,73.97 L550.38,74.59 L551.05,75.21 L551.73,75.83 L552.40,76.44 L553.07,77.05 L553.75,77.65 L554.42,78.25 L555.10,78.85 L555.77,79.44 L556.44,80.03 L557.12,80.61 L557.79,81.19 L558.47,81.76 L559.14,82.33 L559.82,82.89 L560.49,83.45 L561.16,84.00 L561.84,84.55 L562.51,85.09 L563.19,85.62 L563.86,86.15 L564.53,86.67 L565.21,87.19 L565.88,87.70 L566.56,88.21 L567.23,88.71 L567.91,89.20 L568.58,89.68 L569.25,90.16 L569.93,90.63 L570.60,91.09 L571.28,91.55 L571.95,91.99 L572.62,92.43 L573.30,92.86 L573.97,93.29 L574.65,93.70 L575.32,94.11 L576.00,94.51 L576.67,94.89 L577.34,95.27 L578.02,95.65 L578.69,96.01 L579.37,96.36 L580.04,96.70 L580.72,97.03 L581.39,97.36 L582.06,97.67 L582.74,97.97 L583.41,98.27 L584.09,98.55 L584.76,98.82 L585.43,99.08 L586.11,99.33 L586.78,99.57 L587.46,99.80 L588.13,100.02 L588.80,100.22 L589.48,100.42 L590.15,100.61 L590.83,100.78 L591.50,100.94 L592.18,101.09 L592.85,101.23 L593.52,101.36 L594.20,101.48 L594.87,101.59 L595.55,101.68 L596.22,101.77 L596.89,101.84 L597.57,101.90 L598.24,101.95 L598.92,101.99 L599.59,102.02 L600.27,102.04 L600.94,102.05 L601.61,102.05 L602.29,102.03 L602.96,102.01 L603.64,101.98 L604.31,101.93 L604.99,101.88 L605.66,101.81 L606.33,101.74 L607.01,101.66 L607.68,101.57 L608.36,101.46 L609.03,101.35 L609.70,101.23 L610.38,101.10 L611.05,100.97 L611.73,100.82 L612.40,100.67 L613.08,100.51 L613.75,100.34 L614.42,100.16 L615.10,99.97 L615.77,99.78 L616.45,99.58 L617.12,99.37 L617.79,99.15 L618.47,98.93 L619.14,98.70 L619.82,98.47 L620.49,98.23 L621.16,97.98 L621.84,97.72 L622.51,97.46 L623.19,97.20 L623.86,96.92 L624.54,96.65 L625.21,96.36 L625.88,96.08 L626.56,95.78 L627.23,95.48 L627.91,95.18 L628.58,94.87 L629.25,94.56 L629.93,94.24 L630.60,93.92 L631.28,93.59 L631.95,93.26 L632.63,92.93 L633.30,92.59 L633.97,92.24 L634.65,91.90 L635.32,91.55 L636.00,91.19 L636.67,90.83 L637.35,90.47 L638.02,90.11 L638.69,89.74 L639.37,89.37 L640.04,88.99 L640.72,88.61 L641.39,88.23 L642.06,87.85 L642.74,87.46 L643.41,87.07 L644.09,86.68 L644.76,86.29 L645.43,85.89 L646.11,85.49 L646.78,85.09 L647.46,84.68 L648.13,84.27 L648.81,83.87 L649.48,83.45 L650.15,83.04 L650.83,82.62 L651.50,82.20 L652.18,81.78 L652.85,81.36 L653.52,80.94 L654.20,80.51 L654.87,80.08 L655.55,79.65 L656.22,79.22 L656.90,78.79 L657.57,78.35 L658.24,77.92 L658.92,77.48 L659.59,77.04 L660.27,76.60 L660.94,76.15 L661.62,75.71 L662.29,75.26 L662.96,74.82 L663.64,74.37 L664.31,73.92 L664.99,73.46 L665.66,73.01 L666.33,72.56 L667.01,72.10 L667.68,71.65 L668.36,71.19 L669.03,70.73 L669.70,70.27 L670.38,69.81 L671.05,69.34 L671.73,68.88 L672.40,68.42 L673.08,67.95 L673.75,67.48"/>
<path stroke="#ff7f0e" d="M511.95,248.01 L512.62,247.27 L513.30,246.54 L513.97,245.80 L514.65,245.07 L515.32,244.34 L516.00,243.61 L516.67,242.88 L517.34,242.15 L518.02,241.43 L518.69,240.70 L519.37,239.98 L520.04,239.25 L520.71,238.53 L521.39,237.81 L522.06,237.09 L522.74,236.37 L523.41,235.66 L524.09,234.94 L524.76,234.23 L525.43,233.51 L526.11,232.80 L526.78,232.09 L527.46,231.39 L528.13,230.68 L528.80,229.98 L529.48,229.27 L530.15,228.57 L530.83,227.87 L531.50,227.18 L532.17,226.48 L532.85,225.79 L533.52,225.10 L534.20,224.41 L534.87,223.72 L535.55,223.04 L536.22,222.35 L536.89,221.67 L537.57,220.99 L538.24,220.32 L538.92,219.64 L539.59,218.97 L540.26,218.30 L540.94,217.64 L541.61,216.97 L542.29,216.31 L542.96,215.65 L543.64,215.00 L544.31,214.34 L544.98,213.69 L545.66,213.05 L546.33,212.40 L547.01,211.76 L547.68,211.12 L548.36,210.49 L549.03,209.86 L549.70,209.23 L550.38,208.61 L551.05,207.99 L551.73,207.37 L552.40,206.76 L553.07,206.15 L553.75,205.55 L554.42,204.95 L555.10,204.35 L555.77,203.76 L556.44,203.17 L557.12,202.59 L557.79,202.01 L558.47,201.44 L559.14,200.87 L559.82,200.31 L560.49,199.75 L561.16,199.20 L561.84,198.65 L562.51,198.11 L563.19,197.58 L563.86,197.05 L564.53,196.53 L565.21,196.01 L565.88,195.50 L566.56,194.99 L567.23,194.49 L567.91,194.00 L568.58,193.52 L569.25,193.04 L569.93,192.57 L570.60,192.11 L571.28,191.65 L571.95,191.21 L572.62,190.77 L573.30,190.34 L573.97,189.91 L574.65,189.50 L575.32,189.09 L576.00,188.69 L576.67,188.31 L577.34,187.93 L578.02,187.55 L578.69,187.19 L579.37,186.84 L580.04,186.50 L580.72,186.17 L581.39,185.84 L582.06,185.53 L582.74,185.23 L583.41,184.93 L584.09,184.65 L584.76,184.38 L585.43,184.12 L586.11,183.87 L586.78,183.63 L587.46,183.40 L588.13,183.18 L588.80,182.98 L589.48,182.78 L590.15,182.59 L590.83,182.42 L591.50,182.26 L592.18,182.11 L592.85,181.97 L593.52,181.84 L594.20,181.72 L594.87,181.61 L595.55,181.52 L596.22,181.43 L596.89,181.36 L597.57,181.30 L598.24,181.25 L598.92,181.21 L599.59,181.18 L600.27,181.16 L600.94,181.15 L601.61,181.15 L602.29,181.17 L602.96,181.19 L603.64,181.22 L604.31,181.27 L604.99,181.32 L605.66,181.39 L606.33,181.46 L607.01,181.54 L607.68,181.63 L608.36,181.74 L609.03,181.85 L609.70,181.97 L610.38,182.10 L611.05,182.23 L611.73,182.38 L612.40,182.53 L613.08,182.69 L613.75,182.86 L614.42,183.04 L615.10,183.23 L615.77,183.42 L616.45,183.62 L617.12,183.83 L617.79,184.05 L618.47,184.27 L619.14,184.50 L619.82,184.73 L620.49,184.97 L621.16,185.22 L621.84,185.48 L622.51,185.74 L623.19,186.00 L623.86,186.28 L624.54,186.55 L625.21,186.84 L625.88,187.12 L626.56,187.42 L627.23,187.72 L627.91,188.02 L628.58,188.33 L629.25,188.64 L629.93,188.96 L630.60,189.28 L631.28,189.61 L631.95,189.94 L632.63,190.27 L633.30,190.61 L633.97,190.96 L634.65,191.30 L635.32,191.65 L636.00,192.01 L636.67,192.37 L637.35,192.73 L638.02,193.09 L638.69,193.46 L639.37,193.83 L640.04,194.21 L640.72,194.59 L641.39,194.97 L642.06,195.35 L642.74,195.74 L643.41,196.13 L644.09,196.52 L644.76,196.91 L645.43,197.31 L646.11,197.71 L646.78,198.11 L647.46,198.52 L648.13,198.93 L648.81,199.33 L649.48,199.75 L650.15,200.16 L650.83,200.58 L651.50,201.00 L652.18,201.42 L652.85,201.84 L653.52,202.26 L654.20,202.69 L654.87,203.12 L655.55,203.55 L656.22,203.98 L656.90,204.41 L657.57,204.85 L658.24,205.28 L658.92,205.72 L659.59,206.16 L660.27,206.60 L660.94,207.05 L661.62,207.49 L662.29,207.94 L662.96,208.38 L663.64,208.83 L664.31,209.28 L664.99,209.74 L665.66,210.19 L666.33,210.64 L667.01,211.10 L667.68,211.55 L668.36,212.01 L669.03,212.47 L669.70,212.93 L670.38,213.39 L671.05,213.86 L671.73,214.32 L672.40,214.78 L673.08,215.25 L673.75,215.72"/>
<path stroke="#d62728" d="M511.95,77.01 L512.62,77.55 L513.30,78.09 L513.97,78.63 L514.65,79.17 L515.32,79.70 L516.00,80.24 L516.67,80.78 L517.34,81.32 L518.02,81.86 L518.69,82.40 L519.37,82.93 L520.04,83.47 L520.71,84.01 L521.39,84.55 L522.06,85.09 L522.74,85.62 L523.41,86.16 L524.09,86.70 L524.76,87.24 L525.43,87.78 L526.11,88.32 L526.78,88.85 L527.46,89.39 L528.13,89.93 L528.80,90.47 L529.48,91.01 L530.15,91.55 L530.83,92.08 L531.50,92.62 L532.17,93.16 L532.85,93.70 L533.52,94.24 L534.20,94.77 L534.87,95.31 L535.55,95.85 L536.22,96.39 L536.89,96.93 L537.57,97.47 L538.24,98.00 L538.92,98.54 L539.59,99.08 L540.26,99.62 L540.94,100.16 L541.61,100.70 L542.29,101.23 L542.96,101.77 L543.64,102.31 L544.31,102.85 L544.98,103.39 L545.66,103.92 L546.33,104.46 L547.01,105.00 L547.68,105.54 L548.36,106.08 L549.03,106.62 L549.70,107.15 L550.38,107.69 L551.05,108.23 L551.73,108.77 L552.40,109.31 L553.07,109.84 L553.75,110.38 L554.42,110.92 L555.10,111.46 L555.77,112.00 L556.44,112.54 L557.12,113.07 L557.79,113.61 L558.47,114.15 L559.14,114.69 L559.82,115.23 L560.49,115.77 L561.16,116.30 L561.84,116.84 L562.51,117.38 L563.19,117.92 L563.86,118.46 L564.53,118.99 L565.21,119.53 L565.88,120.07 L566.56,120.61 L567.23,121.15 L567.91,121.69 L568.58,122.22 L569.25,122.76 L569.93,123.30 L570.60,123.84 L571.28,124.38 L571.95,124.92 L572.62,125.45 L573.30,125.99 L573.97,126.53 L574.65,127.07 L575.32,127.61 L576.00,128.14 L576.67,128.68 L577.34,129.22 L578.02,129.76 L578.69,130.30 L579.37,130.84 L580.04,131.37 L580.72,131.91 L581.39,132.45 L582.06,132.99 L582.74,133.53 L583.41,134.06 L584.09,134.60 L584.76,135.14 L585.43,135.68 L586.11,136.22 L586.78,136.76 L587.46,137.29 L588.13,137.83 L588.80,138.37 L589.48,138.91 L590.15,139.45 L590.83,139.99 L591.50,140.52 L592.18,141.06 L592.85,141.60 L593.52,140.79 L594.20,139.99 L594.87,139.18 L595.55,138.37 L596.22,137.56 L596.89,136.76 L597.57,135.95 L598.24,135.14 L598.92,134.33 L599.59,133.53 L600.27,132.72 L600.94,131.91 L601.61,131.10 L602.29,130.30 L602.96,129.49 L603.64,128.68 L604.31,127.88 L604.99,127.07 L605.66,126.26 L606.33,125.45 L607.01,124.65 L607.68,123.84 L608.36,123.03 L609.03,122.22 L609.70,121.42 L610.38,120.61 L611.05,119.80 L611.73,118.99 L612.40,118.19 L613.08,117.38 L613.75,116.57 L614.42,115.77 L615.10,114.96 L615.77,114.15 L616.45,113.34 L617.12,112.54 L617.79,111.73 L618.47,110.92 L619.14,110.11 L619.82,109.31 L620.49,108.50 L621.16,107.69 L621.84,106.88 L622.51,106.08 L623.19,105.27 L623.86,104.46 L624.54,103.66 L625.21,102.85 L625.88,102.04 L626.56,101.23 L627.23,100.43 L627.91,99.62 L628.58,98.81 L629.25,98.00 L629.93,97.20 L630.60,96.39 L631.28,95.58 L631.95,94.77 L632.63,93.97 L633.30,93.16 L633.97,92.35 L634.65,91.55 L635.32,90.74 L636.00,89.93 L636.67,89.12 L637.35,88.32 L638.02,87.51 L638.69,86.70 L639.37,85.89 L640.04,85.09 L640.72,84.28 L641.39,83.47 L642.06,82.66 L642.74,81.86 L643.41,81.05 L644.09,80.24 L644.76,79.44 L645.43,78.63 L646.11,77.82 L646.78,77.01 L647.46,76.21 L648.13,75.40 L648.81,74.59 L649.48,73.78 L650.15,72.98 L650.83,72.17 L651.50,71.36 L652.18,70.55 L652.85,69.75 L653.52,68.94 L654.20,68.13 L654.87,67.33 L655.55,66.52 L656.22,65.71 L656.90,64.90 L657.57,64.10 L658.24,63.29 L658.92,62.48 L659.59,61.67 L660.27,60.87 L660.94,60.06 L661.62,59.25 L662.29,58.44 L662.96,57.64 L663.64,56.83 L664.31,56.02 L664.99,55.22 L665.66,54.41 L666.33,53.60 L667.01,52.79 L667.68,51.99 L668.36,51.18 L669.03,50.37 L669.70,49.56 L670.38,48.76 L671.05,47.95 L671.73,47.14 L672.40,46.33 L673.08,45.53 L673.75,44.72"/>
<path stroke="#d62728" d="M511.95,206.19 L512.62,205.65 L513.30,205.11 L513.97,204.57 L514.65,204.03 L515.32,203.50 L516.00,202.96 L516.67,202.42 L517.34,201.88 L518.02,201.34 L518.69,200.80 L519.37,200.27 L520.04,199.73 L520.71,199.19 L521.39,198.65 L522.06,198.11 L522.74,197.58 L523.41,197.04 L524.09,196.50 L524.76,195.96 L525.43,195.42 L526.11,194.88 L526.78,194.35 L527.46,193.81 L528.13,193.27 L528.80,192.73 L529.48,192.19 L530.15,191.65 L530.83,191.12 L531.50,190.58 L532.17,190.04 L532.85,189.50 L533.52,188.96 L534.20,188.43 L534.87,187.89 L535.55,187.35 L536.22,186.81 L536.89,186.27 L537.57,185.73 L538.24,185.20 L538.92,184.66 L539.59,184.12 L540.26,183.58 L540.94,183.04 L541.61,182.50 L542.29,181.97 L542.96,181.43 L543.64,180.89 L544.31,180.35 L544.98,179.81 L545.66,179.28 L546.33,178.74 L547.01,178.20 L547.68,177.66 L548.36,177.12 L549.03,176.58 L549.70,176.05 L550.38,175.51 L551.05,174.97 L551.73,174.43 L552.40,173.89 L553.07,173.36 L553.75,172.82 L554.42,172.28 L555.10,171.74 L555.77,171.20 L556.44,170.66 L557.12,170.13 L557.79,169.59 L558.47,169.05 L559.14,168.51 L559.82,167.97 L560.49,167.43 L561.16,166.90 L561.84,166.36 L562.51,165.82 L563.19,165.28 L563.86,164.74 L564.53,164.21 L565.21,163.67 L565.88,163.13 L566.56,162.59 L567.23,162.05 L567.91,161.51 L568.58,160.98 L569.25,160.44 L569.93,159.90 L570.60,159.36 L571.28,158.82 L571.95,158.28 L572.62,157.75 L573.30,157.21 L573.97,156.67 L574.65,156.13 L575.32,155.59 L576.00,155.06 L576.67,154.52 L577.34,153.98 L578.02,153.44 L578.69,152.90 L579.37,152.36 L580.04,151.83 L580.72,151.29 L581.39,150.75 L582.06,150.21 L582.74,149.67 L583.41,149.14 L584.09,148.60 L584.76,148.06 L585.43,147.52 L586.11,146.98 L586.78,146.44 L587.46,145.91 L588.13,145.37 L588.80,144.83 L589.48,144.29 L590.15,143.75 L590.83,143.21 L591.50,142.68 L592.18,142.14 L592.85,141.60 L593.52,142.41 L594.20,143.21 L594.87,144.02 L595.55,144.83 L596.22,145.64 L596.89,146.44 L597.57,147.25 L598.24,148.06 L598.92,148.87 L599.59,149.67 L600.27,150.48 L600.94,151.29 L601.61,152.10 L602.29,152.90 L602.96,153.71 L603.64,154.52 L604.31,155.32 L604.99,156.13 L605.66,156.94 L606.33,157.75 L607.01,158.55 L607.68,159.36 L608.36,160.17 L609.03,160.98 L609.70,161.78 L610.38,162.59 L611.05,163.40 L611.73,164.21 L612.40,165.01 L613.08,165.82 L613.75,166.63 L614.42,167.43 L615.10,168.24 L615.77,169.05 L616.45,169.86 L617.12,170.66 L617.79,171.47 L618.47,172.28 L619.14,173.09 L619.82,173.89 L620.49,174.70 L621.16,175.51 L621.84,176.32 L622.51,177.12 L623.19,177.93 L623.86,178.74 L624.54,179.54 L625.21,180.35 L625.88,181.16 L626.56,181.97 L627.23,182.77 L627.91,183.58 L628.58,184.39 L629.25,185.20 L629.93,186.00 L630.60,186.81 L631.28,187.62 L631.95,188.43 L632.63,189.23 L633.30,190.04 L633.97,190.85 L634.65,191.65 L635.32,192.46 L636.00,193.27 L636.67,194.08 L637.35,194.88 L638.02,195.69 L638.69,196.50 L639.37,197.31 L640.04,198.11 L640.72,198.92 L641.39,199.73 L642.06,200.54 L642.74,201.34 L643.41,202.15 L644.09,202.96 L644.76,203.76 L645.43,204.57 L646.11,205.38 L646.78,206.19 L647.46,206.99 L648.13,207.80 L648.81,208.61 L649.48,209.42 L650.15,210.22 L650.83,211.03 L651.50,211.84 L652.18,212.65 L652.85,213.45 L653.52,214.26 L654.20,215.07 L654.87,215.87 L655.55,216.68 L656.22,217.49 L656.90,218.30 L657.57,219.10 L658.24,219.91 L658.92,220.72 L659.59,221.53 L660.27,222.33 L660.94,223.14 L661.62,223.95 L662.29,224.76 L662.96,225.56 L663.64,226.37 L664.31,227.18 L664.99,227.98 L665.66,228.79 L666.33,229.60 L667.01,230.41 L667.68,231.21 L668.36,232.02 L669.03,232.83 L669.70,233.64 L670.38,234.44 L671.05,235.25 L671.73,236.06 L672.40,236.87 L673.08,237.67 L673.75,238.48"/>
<path stroke="#2ca02c" d="M511.95,44.72 L512.62,45.53 L513.30,46.33 L513.97,47.14 L514.65,47.95 L515.32,48.76 L516.00,49.56 L516.67,50.37 L517.34,51.18 L518.02,51.99 L518.69,52.79 L519.37,53.60 L520.04,54.41 L520.71,55.22 L521.39,56.02 L522.06,56.83 L522.74,57.64 L523.41,58.44 L524.09,59.25 L524.76,60.06 L525.43,60.87 L526.11,61.67 L526.78,62.48 L527.46,63.29 L528.13,64.10 L528.80,64.90 L529.48,65.71 L530.15,66.52 L530.83,67.33 L531.50,68.13 L532.17,68.94 L532.85,69.75 L533.52,70.55 L534.20,71.36 L534.87,72.17 L535.55,72.98 L536.22,73.78 L536.89,74.59 L537.57,75.40 L538.24,76.21 L538.92,77.01 L539.59,77.82 L540.26,78.63 L540.94,79.44 L541.61,80.24 L542.29,81.05 L542.96,81.86 L543.64,82.66 L544.31,83.47 L544.98,84.28 L545.66,85.09 L546.33,85.89 L547.01,86.70 L547.68,87.51 L548.36,88.32 L549.03,89.12 L549.70,89.93 L550.38,90.74 L551.05,91.55 L551.73,92.35 L552.40,93.16 L553.07,93.97 L553.75,94.77 L554.42,95.58 L555.10,96.39 L555.77,97.20 L556.44,98.00 L557.12,98.81 L557.79,99.62 L558.47,100.43 L559.14,101.23 L559.82,102.04 L560.49,102.85 L561.16,103.66 L561.84,104.46 L562.51,105.27 L563.19,106.08 L563.86,106.88 L564.53,107.69 L565.21,108.50 L565.88,109.31 L566.56,110.11 L567.23,110.92 L567.91,111.73 L568.58,112.54 L569.25,113.34 L569.93,114.15 L570.60,114.96 L571.28,115.77 L571.95,116.57 L572.62,117.38 L573.30,118.19 L573.97,118.99 L574.65,119.80 L575.32,120.61 L576.00,121.42 L576.67,122.22 L577.34,123.03 L578.02,123.84 L578.69,124.65 L579.37,125.45 L580.04,126.26 L580.72,127.07 L581.39,127.88 L582.06,128.68 L582.74,129.49 L583.41,130.30 L584.09,131.10 L584.76,131.91 L585.43,132.72 L586.11,133.53 L586.78,134.33 L587.46,135.14 L588.13,135.95 L588.80,136.76 L589.48,137.56 L590.15,138.37 L590.83,139.18 L591.50,139.99 L592.18,140.79 L592.85,141.60 L593.52,141.06 L594.20,140.52 L594.87,139.99 L595.55,139.45 L596.22,138.91 L596.89,138.37 L597.57,137.83 L598.24,137.29 L598.92,136.76 L599.59,136.22 L600.27,135.68 L600.94,135.14 L601.61,134.60 L602.29,134.06 L602.96,133.53 L603.64,132.99 L604.31,132.45 L604.99,131.91 L605.66,131.37 L606.33,130.84 L607.01,130.30 L607.68,129.76 L608.36,129.22 L609.03,128.68 L609.70,128.14 L610.38,127.61 L611.05,127.07 L611.73,126.53 L612.40,125.99 L613.08,125.45 L613.75,124.92 L614.42,124.38 L615.10,123.84 L615.77,123.30 L616.45,122.76 L617.12,122.22 L617.79,121.69 L618.47,121.15 L619.14,120.61 L619.82,120.07 L620.49,119.53 L621.16,118.99 L621.84,118.46 L622.51,117.92 L623.19,117.38 L623.86,116.84 L624.54,116.30 L625.21,115.77 L625.88,115.23 L626.56,114.69 L627.23,114.15 L627.91,113.61 L628.58,113.07 L629.25,112.54 L629.93,112.00 L630.60,111.46 L631.28,110.92 L631.95,110.38 L632.63,109.84 L633.30,109.31 L633.97,108.77 L634.65,108.23 L635.32,107.69 L636.00,107.15 L636.67,106.62 L637.35,106.08 L638.02,105.54 L638.69,105.00 L639.37,104.46 L640.04,103.92 L640.72,103.39 L641.39,102.85 L642.06,102.31 L642.74,101.77 L643.41,101.23 L644.09,100.70 L644.76,100.16 L645.43,99.62 L646.11,99.08 L646.78,98.54 L647.46,98.00 L648.13,97.47 L648.81,96.93 L649.48,96.39 L650.15,95.85 L650.83,95.31 L651.50,94.77 L652.18,94.24 L652.85,93.70 L653.52,93.16 L654.20,92.62 L654.87,92.08 L655.55,91.55 L656.22,91.01 L656.90,90.47 L657.57,89.93 L658.24,89.39 L658.92,88.85 L659.59,88.32 L660.27,87.78 L660.94,87.24 L661.62,86.70 L662.29,86.16 L662.96,85.62 L663.64,85.09 L664.31,84.55 L664.99,84.01 L665.66,83.47 L666.33,82.93 L667.01,82.40 L667.68,81.86 L668.36,81.32 L669.03,80.78 L669.70,80.24 L670.38,79.70 L671.05,79.17 L671.73,78.63 L672.40,78.09 L673.08,77.55 L673.75,77.01"/>
<path stroke="#2ca02c" d="M511.95,238.48 L512.62,237.67 L513.30,236.87 L513.97,236.06 L514.65,235.25 L515.32,234.44 L516.00,233.64 L516.67,232.83 L517.34,232.02 L518.02,231.21 L518.69,230.41 L519.37,229.60 L520.04,228.79 L520.71,227.98 L521.39,227.18 L522.06,226.37 L522.74,225.56 L523.41,224.76 L524.09,223.95 L524.76,223.14 L525.43,222.33 L526.11,221.53 L526.78,220.72 L527.46,219.91 L528.13,219.10 L528.80,218.30 L529.48,217.49 L530.15,216.68 L530.83,215.87 L531.50,215.07 L532.17,214.26 L532.85,213.45 L533.52,212.65 L534.20,211.84 L534.87,211.03 L535.55,210.22 L536.22,209.42 L536.89,208.61 L537.57,207.80 L538.24,206.99 L538.92,206.19 L539.59,205.38 L540.26,204.57 L540.94,203.76 L541.61,202.96 L542.29,202.15 L542.96,201.34 L543.64,200.54 L544.31,199.73 L544.98,198.92 L545.66,198.11 L546.33,197.31 L547.01,196.50 L547.68,195.69 L548.36,194.88 L549.03,194.08 L549.70,193.27 L550.38,192.46 L551.05,191.65 L551.73,190.85 L552.40,190.04 L553.07,189.23 L553.75,188.43 L554.42,187.62 L555.10,186.81 L555.77,186.00 L556.44,185.20 L557.12,184.39 L557.79,183.58 L558.47,182.77 L559.14,181.97 L559.82,181.16 L560.49,180.35 L561.16,179.54 L561.84,178.74 L562.51,177.93 L563.19,177.12 L563.86,176.32 L564.53,175.51 L565.21,174.70 L565.88,173.89 L566.56,173.09 L567.23,172.28 L567.91,171.47 L568.58,170.66 L569.25,169.86 L569.93,169.05 L570.60,168.24 L571.28,167.43 L571.95,166.63 L572.62,165.82 L573.30,165.01 L573.97,164.21 L574.65,163.40 L575.32,162.59 L576.00,161.78 L576.67,160.98 L577.34,160.17 L578.02,159.36 L578.69,158.55 L579.37,157.75 L580.04,156.94 L580.72,156.13 L581.39,155.32 L582.06,154.52 L582.74,153.71 L583.41,152.90 L584.09,152.10 L584.76,151.29 L585.43,150.48 L586.11,149.67 L586.78,148.87 L587.46,148.06 L588.13,147.25 L588.80,146.44 L589.48,145.64 L590.15,144.83 L590.83,144.02 L591.50,143.21 L592.18,142.41 L592.85,141.60 L593.52,142.14 L594.20,142.68 L594.87,143.21 L595.55,143.75 L596.22,144.29 L596.89,144.83 L597.57,145.37 L598.24,145.91 L598.92,146.44 L599.59,146.98 L600.27,147.52 L600.94,148.06 L601.61,148.60 L602.29,149.14 L602.96,149.67 L603.64,150.21 L604.31,150.75 L604.99,151.29 L605.66,151.83 L606.33,152.36 L607.01,152.90 L607.68,153.44 L608.36,153.98 L609.03,154.52 L609.70,155.06 L610.38,155.59 L611.05,156.13 L611.73,156.67 L612.40,157.21 L613.08,157.75 L613.75,158.28 L614.42,158.82 L615.10,159.36 L615.77,159.90 L616.45,160.44 L617.12,160.98 L617.79,161.51 L618.47,162.05 L619.14,162.59 L619.82,163.13 L620.49,163.67 L621.16,164.21 L621.84,164.74 L622.51,165.28 L623.19,165.82 L623.86,166.36 L624.54,166.90 L625.21,167.43 L625.88,167.97 L626.56,168.51 L627.23,169.05 L627.91,169.59 L628.58,170.13 L629.25,170.66 L629.93,171.20 L630.60,171.74 L631.28,172.28 L631.95,172.82 L632.63,173.36 L633.30,173.89 L633.97,174.43 L634.65,174.97 L635.32,175.51 L636.00,176.05 L636.67,176.58 L637.35,177.12 L638.02,177.66 L638.69,178.20 L639.37,178.74 L640.04,179.28 L640.72,179.81 L641.39,180.35 L642.06,180.89 L642.74,181.43 L643.41,181.97 L644.09,182.50 L644.76,183.04 L645.43,183.58 L646.11,184.12 L646.78,184.66 L647.46,185.20 L648.13,185.73 L648.81,186.27 L649.48,186.81 L650.15,187.35 L650.83,187.89 L651.50,188.43 L652.18,188.96 L652.85,189.50 L653.52,190.04 L654.20,190.58 L654.87,191.12 L655.55,191.65 L656.22,192.19 L656.90,192.73 L657.57,193.27 L658.24,193.81 L658.92,194.35 L659.59,194.88 L660.27,195.42 L660.94,195.96 L661.62,196.50 L662.29,197.04 L662.96,197.58 L663.64,198.11 L664.31,198.65 L664.99,199.19 L665.66,199.73 L666.33,200.27 L667.01,200.80 L667.68,201.34 L668.36,201.88 L669.03,202.42 L669.70,202.96 L670.38,203.50 L671.05,204.03 L671.73,204.57 L672.40,205.11 L673.08,205.65 L673.75,206.19"/>
</g>
<rect x="511.95" y="20.5" width="161.80" height="242.20" fill="none" stroke="#000" stroke-width="1.4"/>
<g stroke="#000" stroke-width="1.4">
<line x1="505.95" y1="262.70" x2="511.95" y2="262.70"/>
<line x1="505.95" y1="222.33" x2="511.95" y2="222.33"/>
<line x1="505.95" y1="181.97" x2="511.95" y2="181.97"/>
<line x1="505.95" y1="141.60" x2="511.95" y2="141.60"/>
<line x1="505.95" y1="101.23" x2="511.95" y2="101.23"/>
<line x1="505.95" y1="60.87" x2="511.95" y2="60.87"/>
<line x1="505.95" y1="20.50" x2="511.95" y2="20.50"/>
<line x1="511.95" y1="262.7" x2="511.95" y2="268.7"/>
<line x1="592.85" y1="262.7" x2="592.85" y2="268.7"/>
<line x1="673.75" y1="262.7" x2="673.75" y2="268.7"/>
</g>
<line x1="566.00" y1="0" x2="566.00" y2="13.6" stroke="#000" stroke-width="1.1"/>
<line x1="582.30" y1="0" x2="582.30" y2="13.6" stroke="#000" stroke-width="1.1"/>
<g stroke="#000" stroke-width="1.15"><line x1="588.40" y1="4.6" x2="597.20" y2="4.6"/><line x1="588.40" y1="7.3" x2="597.20" y2="7.3"/></g>
<text x="70.04" y="13.10" font-size="19" font-weight="bold">a</text>
<text x="292.75" y="12.80" font-size="19" font-weight="bold">b</text>
<text x="524.06" y="15.60" font-size="19" font-weight="bold">c</text>
</svg>
<svg class="ov" width="685" height="321" viewBox="0 0 685 321"><text x="46.95" y="269.00" font-size="17.2" text-anchor="end"><tspan dy="1.3">−</tspan><tspan dy="-1.3">3</tspan></text>
<text x="46.95" y="228.63" font-size="17.2" text-anchor="end"><tspan dy="1.3">−</tspan><tspan dy="-1.3">2</tspan></text>
<text x="46.95" y="188.27" font-size="17.2" text-anchor="end"><tspan dy="1.3">−</tspan><tspan dy="-1.3">1</tspan></text>
<text x="46.95" y="147.90" font-size="17.2" text-anchor="end">0</text>
<text x="46.95" y="107.53" font-size="17.2" text-anchor="end">1</text>
<text x="46.95" y="67.17" font-size="17.2" text-anchor="end">2</text>
<text x="46.95" y="26.80" font-size="17.2" text-anchor="end">3</text>
<text x="58.95" y="289.1" font-size="21" text-anchor="middle">-2.0</text>
<text x="139.85" y="287.4" font-size="17.2" text-anchor="middle">0.0</text>
<text x="220.75" y="287.4" font-size="17.2" text-anchor="middle">2.0</text>
<text x="105.15" y="316.70" font-size="21" font-style="italic">k</text>
<text x="122.20" y="316.70" font-size="21">(</text>
<text x="129.37" y="316.70" font-size="21">Δ</text>
<text x="143.93" y="319.70" font-size="14.5">0</text>
<text x="153.60" y="316.70" font-size="21">/</text>
<text x="159.33" y="316.70" font-size="19.5">v</text>
<text x="170.48" y="316.70" font-size="21">)</text>
<g transform="translate(15.05,0) rotate(-90)"><text x="-172.39" y="0.00" font-size="22" font-style="italic">ξ</text><text x="-160.76" y="4.10" font-size="15.5" font-style="italic">k</text><text x="-146.30" y="0.00" font-size="21">(</text><text x="-140.03" y="0.00" font-size="21">Δ</text><text x="-124.57" y="3.40" font-size="14.5">0</text><text x="-115.62" y="0.00" font-size="21">)</text></g>
<text x="115.44" y="10.20" font-size="14" font-style="italic">ω</text>
<text x="148.30" y="10.2" font-size="14.8" letter-spacing="0.6">0.1</text>
<text x="273.55" y="269.00" font-size="17.2" text-anchor="end"><tspan dy="1.3">−</tspan><tspan dy="-1.3">3</tspan></text>
<text x="273.55" y="228.63" font-size="17.2" text-anchor="end"><tspan dy="1.3">−</tspan><tspan dy="-1.3">2</tspan></text>
<text x="273.55" y="188.27" font-size="17.2" text-anchor="end"><tspan dy="1.3">−</tspan><tspan dy="-1.3">1</tspan></text>
<text x="273.55" y="147.90" font-size="17.2" text-anchor="end">0</text>
<text x="273.55" y="107.53" font-size="17.2" text-anchor="end">1</text>
<text x="273.55" y="67.17" font-size="17.2" text-anchor="end">2</text>
<text x="273.55" y="26.80" font-size="17.2" text-anchor="end">3</text>
<text x="285.55" y="289.1" font-size="21" text-anchor="middle">-2.0</text>
<text x="366.45" y="287.4" font-size="17.2" text-anchor="middle">0.0</text>
<text x="447.35" y="287.4" font-size="17.2" text-anchor="middle">2.0</text>
<text x="331.75" y="316.70" font-size="21" font-style="italic">k</text>
<text x="348.80" y="316.70" font-size="21">(</text>
<text x="355.97" y="316.70" font-size="21">Δ</text>
<text x="370.53" y="319.70" font-size="14.5">0</text>
<text x="380.20" y="316.70" font-size="21">/</text>
<text x="385.93" y="316.70" font-size="19.5">v</text>
<text x="397.08" y="316.70" font-size="21">)</text>
<g transform="translate(241.65,0) rotate(-90)"><text x="-172.39" y="0.00" font-size="22" font-style="italic">ξ</text><text x="-160.76" y="4.10" font-size="15.5" font-style="italic">k</text><text x="-146.30" y="0.00" font-size="21">(</text><text x="-140.03" y="0.00" font-size="21">Δ</text><text x="-124.57" y="3.40" font-size="14.5">0</text><text x="-115.62" y="0.00" font-size="21">)</text></g>
<text x="342.04" y="10.20" font-size="14" font-style="italic">ω</text>
<text x="374.90" y="10.2" font-size="14.8" letter-spacing="0.6">0.8</text>
<text x="499.95" y="269.00" font-size="17.2" text-anchor="end"><tspan dy="1.3">−</tspan><tspan dy="-1.3">3</tspan></text>
<text x="499.95" y="228.63" font-size="17.2" text-anchor="end"><tspan dy="1.3">−</tspan><tspan dy="-1.3">2</tspan></text>
<text x="499.95" y="188.27" font-size="17.2" text-anchor="end"><tspan dy="1.3">−</tspan><tspan dy="-1.3">1</tspan></text>
<text x="499.95" y="147.90" font-size="17.2" text-anchor="end">0</text>
<text x="499.95" y="107.53" font-size="17.2" text-anchor="end">1</text>
<text x="499.95" y="67.17" font-size="17.2" text-anchor="end">2</text>
<text x="499.95" y="26.80" font-size="17.2" text-anchor="end">3</text>
<text x="511.95" y="289.1" font-size="21" text-anchor="middle">-2.0</text>
<text x="592.85" y="287.4" font-size="17.2" text-anchor="middle">0.0</text>
<text x="673.75" y="287.4" font-size="17.2" text-anchor="middle">2.0</text>
<text x="558.15" y="316.70" font-size="21" font-style="italic">k</text>
<text x="575.20" y="316.70" font-size="21">(</text>
<text x="582.37" y="316.70" font-size="21">Δ</text>
<text x="596.93" y="319.70" font-size="14.5">0</text>
<text x="606.60" y="316.70" font-size="21">/</text>
<text x="612.33" y="316.70" font-size="19.5">v</text>
<text x="623.48" y="316.70" font-size="21">)</text>
<g transform="translate(468.05,0) rotate(-90)"><text x="-172.39" y="0.00" font-size="22" font-style="italic">ξ</text><text x="-160.76" y="4.10" font-size="15.5" font-style="italic">k</text><text x="-146.30" y="0.00" font-size="21">(</text><text x="-140.03" y="0.00" font-size="21">Δ</text><text x="-124.57" y="3.40" font-size="14.5">0</text><text x="-115.62" y="0.00" font-size="21">)</text></g>
<text x="568.44" y="10.20" font-size="14" font-style="italic">ω</text>
<text x="601.30" y="10.2" font-size="14.8" letter-spacing="0.6">1.0</text></svg>
</body></html>
